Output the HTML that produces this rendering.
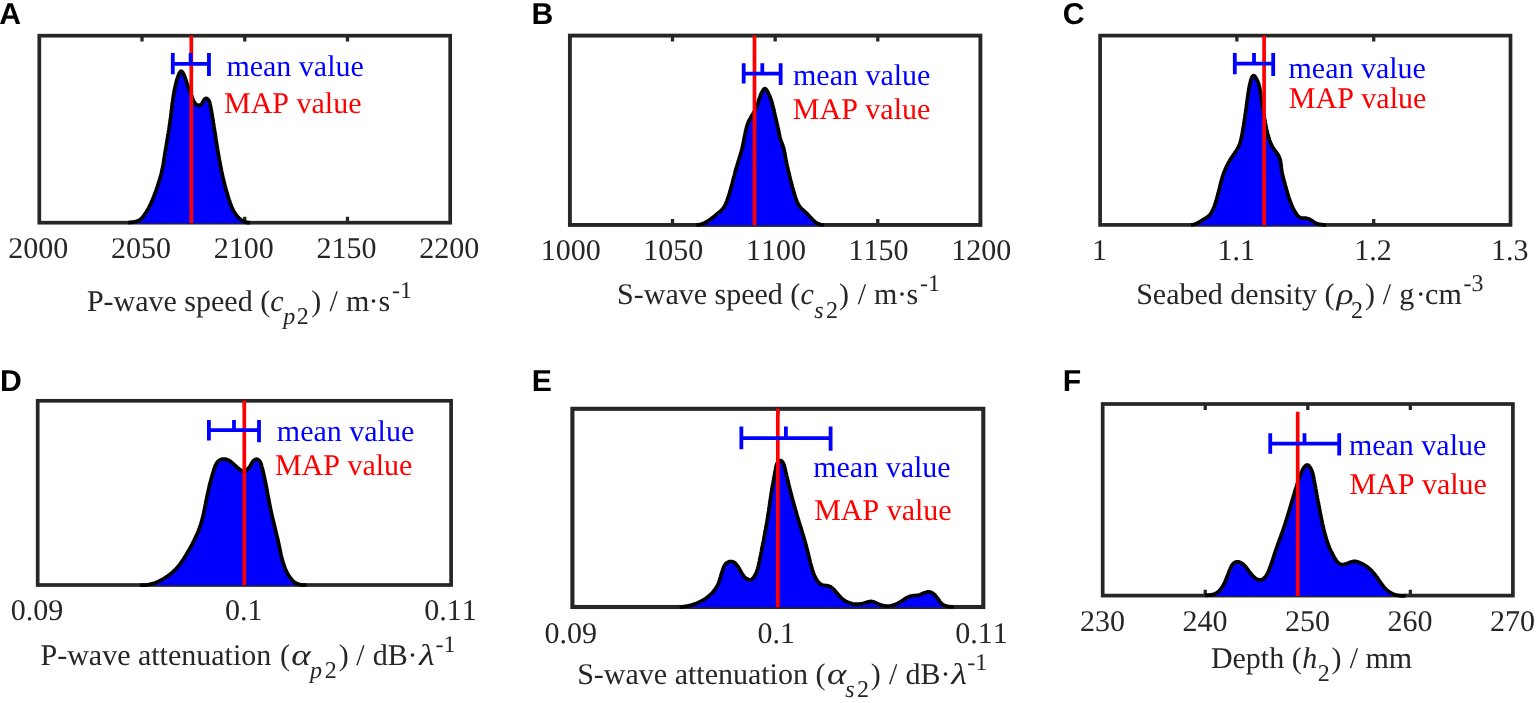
<!DOCTYPE html>
<html lang="en"><head><meta charset="utf-8"><title>Posterior probability densities</title>
<style>html,body{margin:0;padding:0;background:#fff;}body{width:1540px;height:703px;overflow:hidden;}svg{display:block;filter:blur(0.3px);}text{font-kerning:none;text-rendering:geometricPrecision;white-space:pre;}.t{font-family:"Liberation Serif",serif;font-size:30px;fill:#262626;}.s{font-family:"Liberation Serif",serif;font-size:24px;fill:#262626;}.i{font-style:italic;}.L{font-family:"Liberation Sans",sans-serif;font-weight:bold;font-size:30.2px;fill:#000;}.b{fill:#0000ff;}.r{fill:#ff0000;}</style></head><body>
<svg width="1540" height="703" viewBox="0 0 1540 703">
<rect width="1540" height="703" fill="#fff"/>
<g>
<text class="L" x="-0.85" y="24.00">A</text>
<rect x="39.30" y="35.70" width="410.90" height="187.00" fill="none" stroke="#262626" stroke-width="3.70"/>
<path d="M142.02,222.70v-5.90 M142.02,35.70v5.90 M244.75,222.70v-5.90 M244.75,35.70v5.90 M347.47,222.70v-5.90 M347.47,35.70v5.90" stroke="#262626" stroke-width="3.30" fill="none"/>
<path d="M128.0,222.7L128.8,222.6L129.6,222.5L130.4,222.4L131.3,222.3L132.1,222.2L133.0,222.1L133.9,222.0L134.7,221.8L135.6,221.6L136.5,221.4L137.3,221.1L138.1,220.8L138.9,220.5L139.6,220.1L140.3,219.6L141.0,219.0L141.6,218.5L142.2,217.9L142.7,217.2L143.2,216.5L143.8,215.8L144.3,215.1L144.7,214.4L145.2,213.7L145.7,213.0L146.2,212.3L146.6,211.6L147.0,210.8L147.5,210.1L147.9,209.3L148.3,208.6L148.7,207.9L149.1,207.1L149.5,206.3L149.9,205.6L150.2,204.8L150.6,204.0L151.0,203.3L151.3,202.5L151.7,201.7L152.0,200.9L152.3,200.2L152.7,199.4L153.0,198.6L153.3,197.8L153.6,197.0L153.9,196.2L154.2,195.4L154.5,194.6L154.8,193.8L155.1,193.0L155.4,192.2L155.7,191.4L156.0,190.6L156.3,189.8L156.5,189.0L156.8,188.2L157.1,187.4L157.4,186.5L157.6,185.7L157.9,184.9L158.2,184.1L158.4,183.3L158.7,182.5L159.0,181.7L159.2,180.9L159.5,180.0L159.7,179.2L159.9,178.4L160.2,177.6L160.4,176.8L160.6,176.0L160.8,175.1L161.1,174.3L161.3,173.5L161.5,172.7L161.7,171.8L161.9,171.0L162.0,170.2L162.2,169.3L162.4,168.5L162.6,167.7L162.7,166.8L162.9,166.0L163.0,165.2L163.2,164.3L163.3,163.5L163.5,162.6L163.6,161.8L163.8,161.0L163.9,160.1L164.0,159.3L164.2,158.4L164.3,157.6L164.4,156.8L164.6,155.9L164.7,155.1L164.8,154.2L165.0,153.4L165.1,152.5L165.2,151.7L165.4,150.9L165.5,150.0L165.7,149.2L165.8,148.3L165.9,147.5L166.1,146.6L166.2,145.8L166.4,145.0L166.5,144.1L166.6,143.3L166.8,142.4L166.9,141.6L167.1,140.8L167.2,139.9L167.4,139.1L167.5,138.2L167.6,137.4L167.8,136.6L167.9,135.7L168.0,134.9L168.2,134.0L168.3,133.2L168.5,132.3L168.6,131.5L168.7,130.7L168.9,129.8L169.0,129.0L169.1,128.1L169.2,127.3L169.4,126.4L169.5,125.6L169.6,124.8L169.7,123.9L169.9,123.1L170.0,122.2L170.1,121.4L170.2,120.5L170.3,119.7L170.4,118.9L170.6,118.0L170.7,117.2L170.8,116.3L170.9,115.5L171.0,114.6L171.1,113.8L171.2,112.9L171.3,112.1L171.4,111.2L171.5,110.4L171.6,109.5L171.7,108.7L171.8,107.9L171.9,107.0L172.0,106.2L172.1,105.3L172.2,104.5L172.3,103.6L172.4,102.8L172.6,101.9L172.7,101.1L172.8,100.3L172.9,99.4L173.0,98.6L173.1,97.7L173.3,96.9L173.4,96.0L173.5,95.2L173.7,94.4L173.8,93.5L174.0,92.7L174.1,91.8L174.3,91.0L174.4,90.2L174.6,89.3L174.8,88.5L175.0,87.7L175.1,86.8L175.3,86.0L175.5,85.2L175.7,84.3L175.9,83.5L176.1,82.7L176.4,81.9L176.6,81.0L176.8,80.2L177.1,79.4L177.3,78.6L177.6,77.7L177.9,76.9L178.1,76.1L178.4,75.3L178.7,74.5L179.1,73.7L179.5,72.9L180.0,72.1L180.5,71.5L181.1,71.2L181.7,71.3L182.3,71.8L182.8,72.5L183.2,73.3L183.6,74.1L184.0,74.9L184.3,75.7L184.7,76.5L185.0,77.4L185.2,78.2L185.5,79.0L185.8,79.8L186.1,80.7L186.3,81.5L186.6,82.3L186.9,83.1L187.1,83.9L187.4,84.7L187.7,85.5L187.9,86.2L188.2,87.0L188.5,87.8L188.8,88.6L189.1,89.3L189.4,90.1L189.7,90.9L190.0,91.7L190.3,92.5L190.6,93.3L190.9,94.1L191.3,94.9L191.6,95.7L191.9,96.5L192.2,97.4L192.5,98.2L192.9,99.1L193.2,99.9L193.6,100.8L194.0,101.6L194.4,102.3L194.9,103.0L195.4,103.6L195.9,104.2L196.5,104.6L197.2,105.0L197.9,105.2L198.7,105.3L199.6,105.2L200.4,104.9L201.1,104.4L201.8,103.7L202.4,102.9L202.9,102.0L203.4,101.1L203.9,100.3L204.4,99.5L204.9,98.9L205.5,98.5L206.1,98.4L206.8,98.6L207.5,99.1L208.2,99.7L208.7,100.4L209.2,101.2L209.5,102.0L209.8,102.8L210.0,103.7L210.2,104.5L210.3,105.4L210.5,106.2L210.6,107.0L210.8,107.9L211.0,108.7L211.1,109.5L211.3,110.4L211.4,111.2L211.6,112.0L211.7,112.9L211.9,113.7L212.0,114.5L212.2,115.4L212.3,116.2L212.4,117.1L212.6,117.9L212.7,118.7L212.9,119.6L213.0,120.4L213.1,121.3L213.3,122.1L213.4,122.9L213.5,123.8L213.7,124.6L213.8,125.5L213.9,126.3L214.1,127.2L214.2,128.0L214.3,128.9L214.5,129.7L214.6,130.6L214.7,131.4L214.9,132.2L215.0,133.1L215.1,133.9L215.3,134.8L215.4,135.6L215.5,136.5L215.7,137.3L215.8,138.2L215.9,139.0L216.0,139.8L216.2,140.7L216.3,141.5L216.4,142.4L216.6,143.2L216.7,144.1L216.9,144.9L217.0,145.7L217.1,146.6L217.3,147.4L217.4,148.3L217.5,149.1L217.7,150.0L217.8,150.8L218.0,151.6L218.1,152.5L218.2,153.3L218.4,154.1L218.5,155.0L218.7,155.8L218.8,156.7L219.0,157.5L219.1,158.3L219.3,159.2L219.4,160.0L219.6,160.8L219.7,161.7L219.9,162.5L220.1,163.3L220.2,164.2L220.4,165.0L220.5,165.9L220.7,166.7L220.9,167.5L221.0,168.4L221.2,169.2L221.4,170.0L221.5,170.8L221.7,171.7L221.9,172.5L222.1,173.3L222.3,174.2L222.4,175.0L222.6,175.8L222.8,176.7L223.0,177.5L223.2,178.3L223.4,179.2L223.6,180.0L223.8,180.8L224.0,181.6L224.2,182.5L224.4,183.3L224.6,184.1L224.8,184.9L225.0,185.8L225.3,186.6L225.5,187.4L225.7,188.3L225.9,189.1L226.2,189.9L226.4,190.7L226.6,191.6L226.9,192.4L227.1,193.2L227.3,194.0L227.6,194.8L227.8,195.7L228.1,196.5L228.3,197.3L228.6,198.1L228.9,199.0L229.1,199.8L229.4,200.6L229.7,201.4L229.9,202.2L230.2,203.1L230.5,203.9L230.8,204.7L231.1,205.5L231.4,206.3L231.8,207.1L232.1,207.8L232.5,208.6L232.8,209.4L233.2,210.1L233.6,210.9L234.0,211.6L234.4,212.3L234.9,213.1L235.3,213.7L235.8,214.4L236.3,215.1L236.8,215.7L237.4,216.4L237.9,217.0L238.5,217.6L239.1,218.2L239.8,218.7L240.4,219.3L241.1,219.8L241.9,220.3L242.6,220.7L243.4,221.2L244.2,221.6L245.0,221.9L245.8,222.2L246.6,222.4L247.4,222.6L248.3,222.7L249.1,222.7L250.0,222.7 L250.00,223.20 L128.00,223.20 Z" fill="#0000ff" stroke="none"/>
<path d="M128.0,222.7L128.8,222.6L129.6,222.5L130.4,222.4L131.3,222.3L132.1,222.2L133.0,222.1L133.9,222.0L134.7,221.8L135.6,221.6L136.5,221.4L137.3,221.1L138.1,220.8L138.9,220.5L139.6,220.1L140.3,219.6L141.0,219.0L141.6,218.5L142.2,217.9L142.7,217.2L143.2,216.5L143.8,215.8L144.3,215.1L144.7,214.4L145.2,213.7L145.7,213.0L146.2,212.3L146.6,211.6L147.0,210.8L147.5,210.1L147.9,209.3L148.3,208.6L148.7,207.9L149.1,207.1L149.5,206.3L149.9,205.6L150.2,204.8L150.6,204.0L151.0,203.3L151.3,202.5L151.7,201.7L152.0,200.9L152.3,200.2L152.7,199.4L153.0,198.6L153.3,197.8L153.6,197.0L153.9,196.2L154.2,195.4L154.5,194.6L154.8,193.8L155.1,193.0L155.4,192.2L155.7,191.4L156.0,190.6L156.3,189.8L156.5,189.0L156.8,188.2L157.1,187.4L157.4,186.5L157.6,185.7L157.9,184.9L158.2,184.1L158.4,183.3L158.7,182.5L159.0,181.7L159.2,180.9L159.5,180.0L159.7,179.2L159.9,178.4L160.2,177.6L160.4,176.8L160.6,176.0L160.8,175.1L161.1,174.3L161.3,173.5L161.5,172.7L161.7,171.8L161.9,171.0L162.0,170.2L162.2,169.3L162.4,168.5L162.6,167.7L162.7,166.8L162.9,166.0L163.0,165.2L163.2,164.3L163.3,163.5L163.5,162.6L163.6,161.8L163.8,161.0L163.9,160.1L164.0,159.3L164.2,158.4L164.3,157.6L164.4,156.8L164.6,155.9L164.7,155.1L164.8,154.2L165.0,153.4L165.1,152.5L165.2,151.7L165.4,150.9L165.5,150.0L165.7,149.2L165.8,148.3L165.9,147.5L166.1,146.6L166.2,145.8L166.4,145.0L166.5,144.1L166.6,143.3L166.8,142.4L166.9,141.6L167.1,140.8L167.2,139.9L167.4,139.1L167.5,138.2L167.6,137.4L167.8,136.6L167.9,135.7L168.0,134.9L168.2,134.0L168.3,133.2L168.5,132.3L168.6,131.5L168.7,130.7L168.9,129.8L169.0,129.0L169.1,128.1L169.2,127.3L169.4,126.4L169.5,125.6L169.6,124.8L169.7,123.9L169.9,123.1L170.0,122.2L170.1,121.4L170.2,120.5L170.3,119.7L170.4,118.9L170.6,118.0L170.7,117.2L170.8,116.3L170.9,115.5L171.0,114.6L171.1,113.8L171.2,112.9L171.3,112.1L171.4,111.2L171.5,110.4L171.6,109.5L171.7,108.7L171.8,107.9L171.9,107.0L172.0,106.2L172.1,105.3L172.2,104.5L172.3,103.6L172.4,102.8L172.6,101.9L172.7,101.1L172.8,100.3L172.9,99.4L173.0,98.6L173.1,97.7L173.3,96.9L173.4,96.0L173.5,95.2L173.7,94.4L173.8,93.5L174.0,92.7L174.1,91.8L174.3,91.0L174.4,90.2L174.6,89.3L174.8,88.5L175.0,87.7L175.1,86.8L175.3,86.0L175.5,85.2L175.7,84.3L175.9,83.5L176.1,82.7L176.4,81.9L176.6,81.0L176.8,80.2L177.1,79.4L177.3,78.6L177.6,77.7L177.9,76.9L178.1,76.1L178.4,75.3L178.7,74.5L179.1,73.7L179.5,72.9L180.0,72.1L180.5,71.5L181.1,71.2L181.7,71.3L182.3,71.8L182.8,72.5L183.2,73.3L183.6,74.1L184.0,74.9L184.3,75.7L184.7,76.5L185.0,77.4L185.2,78.2L185.5,79.0L185.8,79.8L186.1,80.7L186.3,81.5L186.6,82.3L186.9,83.1L187.1,83.9L187.4,84.7L187.7,85.5L187.9,86.2L188.2,87.0L188.5,87.8L188.8,88.6L189.1,89.3L189.4,90.1L189.7,90.9L190.0,91.7L190.3,92.5L190.6,93.3L190.9,94.1L191.3,94.9L191.6,95.7L191.9,96.5L192.2,97.4L192.5,98.2L192.9,99.1L193.2,99.9L193.6,100.8L194.0,101.6L194.4,102.3L194.9,103.0L195.4,103.6L195.9,104.2L196.5,104.6L197.2,105.0L197.9,105.2L198.7,105.3L199.6,105.2L200.4,104.9L201.1,104.4L201.8,103.7L202.4,102.9L202.9,102.0L203.4,101.1L203.9,100.3L204.4,99.5L204.9,98.9L205.5,98.5L206.1,98.4L206.8,98.6L207.5,99.1L208.2,99.7L208.7,100.4L209.2,101.2L209.5,102.0L209.8,102.8L210.0,103.7L210.2,104.5L210.3,105.4L210.5,106.2L210.6,107.0L210.8,107.9L211.0,108.7L211.1,109.5L211.3,110.4L211.4,111.2L211.6,112.0L211.7,112.9L211.9,113.7L212.0,114.5L212.2,115.4L212.3,116.2L212.4,117.1L212.6,117.9L212.7,118.7L212.9,119.6L213.0,120.4L213.1,121.3L213.3,122.1L213.4,122.9L213.5,123.8L213.7,124.6L213.8,125.5L213.9,126.3L214.1,127.2L214.2,128.0L214.3,128.9L214.5,129.7L214.6,130.6L214.7,131.4L214.9,132.2L215.0,133.1L215.1,133.9L215.3,134.8L215.4,135.6L215.5,136.5L215.7,137.3L215.8,138.2L215.9,139.0L216.0,139.8L216.2,140.7L216.3,141.5L216.4,142.4L216.6,143.2L216.7,144.1L216.9,144.9L217.0,145.7L217.1,146.6L217.3,147.4L217.4,148.3L217.5,149.1L217.7,150.0L217.8,150.8L218.0,151.6L218.1,152.5L218.2,153.3L218.4,154.1L218.5,155.0L218.7,155.8L218.8,156.7L219.0,157.5L219.1,158.3L219.3,159.2L219.4,160.0L219.6,160.8L219.7,161.7L219.9,162.5L220.1,163.3L220.2,164.2L220.4,165.0L220.5,165.9L220.7,166.7L220.9,167.5L221.0,168.4L221.2,169.2L221.4,170.0L221.5,170.8L221.7,171.7L221.9,172.5L222.1,173.3L222.3,174.2L222.4,175.0L222.6,175.8L222.8,176.7L223.0,177.5L223.2,178.3L223.4,179.2L223.6,180.0L223.8,180.8L224.0,181.6L224.2,182.5L224.4,183.3L224.6,184.1L224.8,184.9L225.0,185.8L225.3,186.6L225.5,187.4L225.7,188.3L225.9,189.1L226.2,189.9L226.4,190.7L226.6,191.6L226.9,192.4L227.1,193.2L227.3,194.0L227.6,194.8L227.8,195.7L228.1,196.5L228.3,197.3L228.6,198.1L228.9,199.0L229.1,199.8L229.4,200.6L229.7,201.4L229.9,202.2L230.2,203.1L230.5,203.9L230.8,204.7L231.1,205.5L231.4,206.3L231.8,207.1L232.1,207.8L232.5,208.6L232.8,209.4L233.2,210.1L233.6,210.9L234.0,211.6L234.4,212.3L234.9,213.1L235.3,213.7L235.8,214.4L236.3,215.1L236.8,215.7L237.4,216.4L237.9,217.0L238.5,217.6L239.1,218.2L239.8,218.7L240.4,219.3L241.1,219.8L241.9,220.3L242.6,220.7L243.4,221.2L244.2,221.6L245.0,221.9L245.8,222.2L246.6,222.4L247.4,222.6L248.3,222.7L249.1,222.7L250.0,222.7" fill="none" stroke="#000" stroke-width="3.70" stroke-linejoin="round" stroke-linecap="butt"/>
<path d="M191.30,35.70V223.20" stroke="#ff0000" stroke-width="3.70" fill="none"/>
<path d="M172.80,63.85H208.95 M172.80,53.00V74.30 M208.95,53.00V76.10" stroke="#0000ff" stroke-width="3.80" fill="none"/>
<path d="M190.60,53.00V63.85" stroke="#0000ff" stroke-width="3.80" fill="none"/>
<text class="t b" x="226.40" y="76.40">mean value</text>
<text class="t r" x="224.00" y="113.20">MAP value</text>
<text class="t" text-anchor="middle" x="38.30" y="258.20">2000</text>
<text class="t" text-anchor="middle" x="141.02" y="258.20">2050</text>
<text class="t" text-anchor="middle" x="243.75" y="258.20">2100</text>
<text class="t" text-anchor="middle" x="346.47" y="258.20">2150</text>
<text class="t" text-anchor="middle" x="449.20" y="258.20">2200</text>
<text class="t"><tspan class="t" x="86.90" y="311.00">P-wave speed (</tspan><tspan class="t i" x="270.17" y="311.00">c</tspan><tspan class="s i" x="283.28" y="324.40">p</tspan><tspan class="s" x="296.78" y="324.40">2</tspan><tspan class="t" x="311.28" y="311.00">) </tspan><tspan class="t" x="329.58" y="311.00">/ </tspan><tspan class="t" x="346.11" y="311.00">m</tspan><tspan class="t" x="368.54" y="311.00">·</tspan><tspan class="t" x="378.53" y="311.00">s</tspan><tspan class="s" x="392.11" y="297.60">-1</tspan></text>
</g>
<g>
<text class="L" x="531.60" y="24.20">B</text>
<rect x="569.90" y="35.60" width="410.50" height="189.35" fill="none" stroke="#262626" stroke-width="3.90"/>
<path d="M672.52,224.95v-5.90 M672.52,35.60v5.90 M775.15,224.95v-5.90 M775.15,35.60v5.90 M877.77,224.95v-5.90 M877.77,35.60v5.90" stroke="#262626" stroke-width="3.30" fill="none"/>
<path d="M696.5,224.9L697.3,224.9L698.1,224.8L698.9,224.7L699.6,224.5L700.4,224.4L701.1,224.2L701.8,224.0L702.5,223.7L703.2,223.5L703.9,223.2L704.6,222.9L705.2,222.5L705.9,222.2L706.5,221.8L707.2,221.5L707.8,221.1L708.4,220.7L709.0,220.3L709.7,219.8L710.3,219.4L710.9,219.0L711.5,218.5L712.1,218.0L712.7,217.6L713.2,217.1L713.8,216.6L714.4,216.1L715.0,215.7L715.6,215.2L716.2,214.7L716.8,214.2L717.4,213.7L718.0,213.2L718.6,212.7L719.1,212.3L719.7,211.8L720.3,211.3L720.8,210.8L721.4,210.3L721.9,209.7L722.4,209.2L722.9,208.6L723.4,208.0L723.8,207.4L724.2,206.8L724.6,206.2L724.9,205.5L725.2,204.8L725.6,204.2L725.9,203.5L726.1,202.8L726.4,202.1L726.7,201.4L727.0,200.6L727.2,199.9L727.5,199.2L727.7,198.5L728.0,197.8L728.2,197.1L728.5,196.4L728.7,195.7L728.9,194.9L729.2,194.2L729.4,193.5L729.6,192.8L729.8,192.1L730.0,191.3L730.2,190.6L730.4,189.9L730.6,189.2L730.8,188.4L731.0,187.7L731.2,187.0L731.4,186.3L731.6,185.5L731.8,184.8L732.0,184.1L732.2,183.4L732.4,182.6L732.6,181.9L732.8,181.2L732.9,180.5L733.1,179.7L733.3,179.0L733.5,178.3L733.7,177.5L733.9,176.8L734.1,176.1L734.3,175.4L734.5,174.6L734.6,173.9L734.8,173.2L735.0,172.5L735.2,171.7L735.4,171.0L735.6,170.3L735.8,169.6L736.0,168.8L736.3,168.1L736.5,167.4L736.7,166.7L736.9,166.0L737.1,165.2L737.3,164.5L737.6,163.8L737.8,163.1L738.0,162.4L738.2,161.7L738.5,160.9L738.7,160.2L738.9,159.5L739.1,158.8L739.3,158.1L739.6,157.4L739.8,156.6L740.0,155.9L740.2,155.2L740.4,154.5L740.6,153.8L740.8,153.0L741.1,152.3L741.3,151.6L741.5,150.9L741.6,150.1L741.8,149.4L742.0,148.7L742.2,147.9L742.4,147.2L742.6,146.5L742.7,145.7L742.9,145.0L743.0,144.3L743.2,143.5L743.3,142.8L743.5,142.0L743.6,141.3L743.8,140.6L743.9,139.8L744.0,139.1L744.2,138.3L744.3,137.6L744.4,136.8L744.6,136.1L744.7,135.4L744.9,134.6L745.0,133.9L745.2,133.1L745.3,132.4L745.5,131.7L745.6,130.9L745.8,130.2L746.0,129.5L746.2,128.7L746.4,128.0L746.6,127.3L746.8,126.6L747.0,125.9L747.2,125.2L747.5,124.5L747.7,123.8L748.0,123.1L748.3,122.4L748.6,121.7L748.9,121.0L749.2,120.3L749.5,119.7L749.9,119.0L750.3,118.3L750.7,117.7L751.0,117.0L751.4,116.4L751.8,115.7L752.2,115.1L752.6,114.4L753.0,113.8L753.4,113.1L753.7,112.5L754.1,111.8L754.5,111.2L754.8,110.5L755.1,109.8L755.5,109.2L755.8,108.5L756.1,107.8L756.4,107.1L756.7,106.5L757.0,105.8L757.3,105.1L757.5,104.4L757.8,103.7L758.0,102.9L758.2,102.2L758.4,101.5L758.7,100.8L758.9,100.1L759.1,99.3L759.3,98.6L759.6,97.9L759.8,97.2L760.0,96.4L760.3,95.7L760.6,95.0L760.9,94.3L761.2,93.6L761.5,92.9L761.9,92.2L762.3,91.5L762.7,90.8L763.1,90.1L763.6,89.5L764.0,89.0L764.5,88.7L765.0,88.6L765.5,88.8L765.9,89.2L766.3,89.7L766.8,90.4L767.2,91.0L767.6,91.7L767.9,92.4L768.3,93.1L768.6,93.8L769.0,94.5L769.3,95.2L769.6,95.9L769.9,96.6L770.2,97.3L770.4,98.0L770.7,98.7L770.9,99.4L771.2,100.1L771.4,100.8L771.6,101.6L771.9,102.3L772.1,103.0L772.3,103.7L772.5,104.5L772.7,105.2L772.8,105.9L773.0,106.6L773.2,107.4L773.4,108.1L773.5,108.8L773.7,109.6L773.9,110.3L774.0,111.0L774.2,111.8L774.4,112.5L774.5,113.2L774.7,114.0L774.9,114.7L775.0,115.4L775.2,116.2L775.4,116.9L775.6,117.6L775.7,118.4L775.9,119.1L776.1,119.8L776.3,120.5L776.5,121.3L776.6,122.0L776.8,122.7L777.0,123.5L777.2,124.2L777.3,124.9L777.5,125.7L777.7,126.4L777.8,127.1L778.0,127.9L778.1,128.6L778.3,129.3L778.5,130.1L778.6,130.8L778.8,131.5L778.9,132.3L779.0,133.0L779.2,133.8L779.3,134.5L779.5,135.2L779.7,136.0L779.8,136.7L780.0,137.4L780.2,138.2L780.4,138.9L780.6,139.6L780.8,140.3L781.1,141.0L781.3,141.7L781.6,142.4L781.9,143.1L782.1,143.8L782.4,144.5L782.6,145.2L782.9,146.0L783.1,146.7L783.4,147.4L783.6,148.1L783.8,148.8L783.9,149.6L784.1,150.3L784.3,151.0L784.4,151.8L784.6,152.5L784.7,153.2L784.9,154.0L785.0,154.7L785.1,155.5L785.3,156.2L785.4,157.0L785.5,157.7L785.7,158.5L785.8,159.2L786.0,159.9L786.1,160.7L786.3,161.4L786.4,162.2L786.6,162.9L786.7,163.6L786.9,164.4L787.0,165.1L787.2,165.8L787.3,166.6L787.5,167.3L787.7,168.0L787.8,168.8L788.0,169.5L788.2,170.2L788.3,170.9L788.5,171.7L788.7,172.4L788.9,173.1L789.0,173.8L789.2,174.6L789.4,175.3L789.6,176.0L789.7,176.7L789.9,177.5L790.1,178.2L790.3,178.9L790.5,179.6L790.7,180.4L790.9,181.1L791.1,181.8L791.3,182.5L791.5,183.3L791.7,184.0L791.8,184.7L792.0,185.5L792.2,186.2L792.4,186.9L792.6,187.6L792.9,188.4L793.1,189.1L793.3,189.8L793.5,190.5L793.7,191.3L793.9,192.0L794.1,192.7L794.3,193.5L794.5,194.2L794.7,194.9L794.9,195.7L795.2,196.4L795.4,197.1L795.6,197.8L795.9,198.6L796.1,199.3L796.4,200.0L796.6,200.7L796.9,201.4L797.2,202.1L797.5,202.7L797.9,203.4L798.2,204.1L798.6,204.7L799.0,205.3L799.4,206.0L799.8,206.6L800.2,207.1L800.7,207.7L801.2,208.3L801.7,208.8L802.3,209.3L802.8,209.9L803.4,210.4L804.0,210.9L804.5,211.4L805.1,211.9L805.7,212.4L806.2,212.9L806.8,213.4L807.3,213.9L807.8,214.5L808.3,215.0L808.9,215.6L809.4,216.1L809.9,216.7L810.4,217.2L810.9,217.8L811.4,218.3L811.9,218.9L812.4,219.5L812.9,220.0L813.5,220.5L814.0,221.0L814.6,221.5L815.2,222.0L815.8,222.4L816.4,222.8L817.1,223.2L817.8,223.5L818.5,223.8L819.2,224.1L819.9,224.3L820.6,224.5L821.4,224.7L822.1,224.8L822.8,224.9L823.6,224.9 L823.60,225.25 L696.50,225.25 Z" fill="#0000ff" stroke="none"/>
<path d="M696.5,224.9L697.3,224.9L698.1,224.8L698.9,224.7L699.6,224.5L700.4,224.4L701.1,224.2L701.8,224.0L702.5,223.7L703.2,223.5L703.9,223.2L704.6,222.9L705.2,222.5L705.9,222.2L706.5,221.8L707.2,221.5L707.8,221.1L708.4,220.7L709.0,220.3L709.7,219.8L710.3,219.4L710.9,219.0L711.5,218.5L712.1,218.0L712.7,217.6L713.2,217.1L713.8,216.6L714.4,216.1L715.0,215.7L715.6,215.2L716.2,214.7L716.8,214.2L717.4,213.7L718.0,213.2L718.6,212.7L719.1,212.3L719.7,211.8L720.3,211.3L720.8,210.8L721.4,210.3L721.9,209.7L722.4,209.2L722.9,208.6L723.4,208.0L723.8,207.4L724.2,206.8L724.6,206.2L724.9,205.5L725.2,204.8L725.6,204.2L725.9,203.5L726.1,202.8L726.4,202.1L726.7,201.4L727.0,200.6L727.2,199.9L727.5,199.2L727.7,198.5L728.0,197.8L728.2,197.1L728.5,196.4L728.7,195.7L728.9,194.9L729.2,194.2L729.4,193.5L729.6,192.8L729.8,192.1L730.0,191.3L730.2,190.6L730.4,189.9L730.6,189.2L730.8,188.4L731.0,187.7L731.2,187.0L731.4,186.3L731.6,185.5L731.8,184.8L732.0,184.1L732.2,183.4L732.4,182.6L732.6,181.9L732.8,181.2L732.9,180.5L733.1,179.7L733.3,179.0L733.5,178.3L733.7,177.5L733.9,176.8L734.1,176.1L734.3,175.4L734.5,174.6L734.6,173.9L734.8,173.2L735.0,172.5L735.2,171.7L735.4,171.0L735.6,170.3L735.8,169.6L736.0,168.8L736.3,168.1L736.5,167.4L736.7,166.7L736.9,166.0L737.1,165.2L737.3,164.5L737.6,163.8L737.8,163.1L738.0,162.4L738.2,161.7L738.5,160.9L738.7,160.2L738.9,159.5L739.1,158.8L739.3,158.1L739.6,157.4L739.8,156.6L740.0,155.9L740.2,155.2L740.4,154.5L740.6,153.8L740.8,153.0L741.1,152.3L741.3,151.6L741.5,150.9L741.6,150.1L741.8,149.4L742.0,148.7L742.2,147.9L742.4,147.2L742.6,146.5L742.7,145.7L742.9,145.0L743.0,144.3L743.2,143.5L743.3,142.8L743.5,142.0L743.6,141.3L743.8,140.6L743.9,139.8L744.0,139.1L744.2,138.3L744.3,137.6L744.4,136.8L744.6,136.1L744.7,135.4L744.9,134.6L745.0,133.9L745.2,133.1L745.3,132.4L745.5,131.7L745.6,130.9L745.8,130.2L746.0,129.5L746.2,128.7L746.4,128.0L746.6,127.3L746.8,126.6L747.0,125.9L747.2,125.2L747.5,124.5L747.7,123.8L748.0,123.1L748.3,122.4L748.6,121.7L748.9,121.0L749.2,120.3L749.5,119.7L749.9,119.0L750.3,118.3L750.7,117.7L751.0,117.0L751.4,116.4L751.8,115.7L752.2,115.1L752.6,114.4L753.0,113.8L753.4,113.1L753.7,112.5L754.1,111.8L754.5,111.2L754.8,110.5L755.1,109.8L755.5,109.2L755.8,108.5L756.1,107.8L756.4,107.1L756.7,106.5L757.0,105.8L757.3,105.1L757.5,104.4L757.8,103.7L758.0,102.9L758.2,102.2L758.4,101.5L758.7,100.8L758.9,100.1L759.1,99.3L759.3,98.6L759.6,97.9L759.8,97.2L760.0,96.4L760.3,95.7L760.6,95.0L760.9,94.3L761.2,93.6L761.5,92.9L761.9,92.2L762.3,91.5L762.7,90.8L763.1,90.1L763.6,89.5L764.0,89.0L764.5,88.7L765.0,88.6L765.5,88.8L765.9,89.2L766.3,89.7L766.8,90.4L767.2,91.0L767.6,91.7L767.9,92.4L768.3,93.1L768.6,93.8L769.0,94.5L769.3,95.2L769.6,95.9L769.9,96.6L770.2,97.3L770.4,98.0L770.7,98.7L770.9,99.4L771.2,100.1L771.4,100.8L771.6,101.6L771.9,102.3L772.1,103.0L772.3,103.7L772.5,104.5L772.7,105.2L772.8,105.9L773.0,106.6L773.2,107.4L773.4,108.1L773.5,108.8L773.7,109.6L773.9,110.3L774.0,111.0L774.2,111.8L774.4,112.5L774.5,113.2L774.7,114.0L774.9,114.7L775.0,115.4L775.2,116.2L775.4,116.9L775.6,117.6L775.7,118.4L775.9,119.1L776.1,119.8L776.3,120.5L776.5,121.3L776.6,122.0L776.8,122.7L777.0,123.5L777.2,124.2L777.3,124.9L777.5,125.7L777.7,126.4L777.8,127.1L778.0,127.9L778.1,128.6L778.3,129.3L778.5,130.1L778.6,130.8L778.8,131.5L778.9,132.3L779.0,133.0L779.2,133.8L779.3,134.5L779.5,135.2L779.7,136.0L779.8,136.7L780.0,137.4L780.2,138.2L780.4,138.9L780.6,139.6L780.8,140.3L781.1,141.0L781.3,141.7L781.6,142.4L781.9,143.1L782.1,143.8L782.4,144.5L782.6,145.2L782.9,146.0L783.1,146.7L783.4,147.4L783.6,148.1L783.8,148.8L783.9,149.6L784.1,150.3L784.3,151.0L784.4,151.8L784.6,152.5L784.7,153.2L784.9,154.0L785.0,154.7L785.1,155.5L785.3,156.2L785.4,157.0L785.5,157.7L785.7,158.5L785.8,159.2L786.0,159.9L786.1,160.7L786.3,161.4L786.4,162.2L786.6,162.9L786.7,163.6L786.9,164.4L787.0,165.1L787.2,165.8L787.3,166.6L787.5,167.3L787.7,168.0L787.8,168.8L788.0,169.5L788.2,170.2L788.3,170.9L788.5,171.7L788.7,172.4L788.9,173.1L789.0,173.8L789.2,174.6L789.4,175.3L789.6,176.0L789.7,176.7L789.9,177.5L790.1,178.2L790.3,178.9L790.5,179.6L790.7,180.4L790.9,181.1L791.1,181.8L791.3,182.5L791.5,183.3L791.7,184.0L791.8,184.7L792.0,185.5L792.2,186.2L792.4,186.9L792.6,187.6L792.9,188.4L793.1,189.1L793.3,189.8L793.5,190.5L793.7,191.3L793.9,192.0L794.1,192.7L794.3,193.5L794.5,194.2L794.7,194.9L794.9,195.7L795.2,196.4L795.4,197.1L795.6,197.8L795.9,198.6L796.1,199.3L796.4,200.0L796.6,200.7L796.9,201.4L797.2,202.1L797.5,202.7L797.9,203.4L798.2,204.1L798.6,204.7L799.0,205.3L799.4,206.0L799.8,206.6L800.2,207.1L800.7,207.7L801.2,208.3L801.7,208.8L802.3,209.3L802.8,209.9L803.4,210.4L804.0,210.9L804.5,211.4L805.1,211.9L805.7,212.4L806.2,212.9L806.8,213.4L807.3,213.9L807.8,214.5L808.3,215.0L808.9,215.6L809.4,216.1L809.9,216.7L810.4,217.2L810.9,217.8L811.4,218.3L811.9,218.9L812.4,219.5L812.9,220.0L813.5,220.5L814.0,221.0L814.6,221.5L815.2,222.0L815.8,222.4L816.4,222.8L817.1,223.2L817.8,223.5L818.5,223.8L819.2,224.1L819.9,224.3L820.6,224.5L821.4,224.7L822.1,224.8L822.8,224.9L823.6,224.9" fill="none" stroke="#000" stroke-width="3.70" stroke-linejoin="round" stroke-linecap="butt"/>
<path d="M754.50,35.60V225.25" stroke="#ff0000" stroke-width="3.70" fill="none"/>
<path d="M743.70,73.55H780.65 M743.70,63.20V83.50 M780.65,63.20V85.00" stroke="#0000ff" stroke-width="3.80" fill="none"/>
<path d="M762.30,63.20V73.55" stroke="#0000ff" stroke-width="3.80" fill="none"/>
<text class="t b" x="793.00" y="85.30">mean value</text>
<text class="t r" x="792.80" y="119.20">MAP value</text>
<text class="t" text-anchor="middle" x="570.70" y="260.00">1000</text>
<text class="t" text-anchor="middle" x="673.32" y="260.00">1050</text>
<text class="t" text-anchor="middle" x="775.95" y="260.00">1100</text>
<text class="t" text-anchor="middle" x="878.57" y="260.00">1150</text>
<text class="t" text-anchor="middle" x="981.20" y="260.00">1200</text>
<text class="t"><tspan class="t" x="617.10" y="304.30">S-wave speed (</tspan><tspan class="t i" x="800.57" y="304.30">c</tspan><tspan class="s i" x="814.28" y="317.70">s</tspan><tspan class="s" x="825.93" y="317.70">2</tspan><tspan class="t" x="839.03" y="304.30">) </tspan><tspan class="t" x="857.82" y="304.30">/ </tspan><tspan class="t" x="873.95" y="304.30">m</tspan><tspan class="t" x="896.98" y="304.30">·</tspan><tspan class="t" x="906.38" y="304.30">s</tspan><tspan class="s" x="920.10" y="290.90">-1</tspan></text>
</g>
<g>
<text class="L" x="1062.70" y="24.30">C</text>
<rect x="1100.10" y="35.60" width="410.40" height="189.30" fill="none" stroke="#262626" stroke-width="3.70"/>
<path d="M1236.90,224.90v-5.90 M1236.90,35.60v5.90 M1373.70,224.90v-5.90 M1373.70,35.60v5.90" stroke="#262626" stroke-width="3.30" fill="none"/>
<path d="M1190.9,224.9L1191.8,224.8L1192.6,224.7L1193.5,224.5L1194.3,224.3L1195.0,224.1L1195.8,223.8L1196.6,223.5L1197.3,223.1L1198.0,222.7L1198.7,222.4L1199.5,221.9L1200.2,221.5L1200.9,221.1L1201.6,220.6L1202.3,220.2L1203.0,219.8L1203.7,219.3L1204.5,218.9L1205.2,218.4L1205.9,218.0L1206.6,217.5L1207.3,217.0L1208.0,216.5L1208.6,216.0L1209.2,215.5L1209.8,214.9L1210.3,214.2L1210.8,213.6L1211.2,212.9L1211.7,212.2L1212.0,211.4L1212.4,210.7L1212.8,209.9L1213.1,209.2L1213.4,208.4L1213.8,207.6L1214.1,206.9L1214.4,206.1L1214.7,205.3L1214.9,204.5L1215.2,203.7L1215.5,203.0L1215.7,202.2L1216.0,201.4L1216.2,200.6L1216.4,199.8L1216.7,199.0L1216.9,198.2L1217.1,197.4L1217.3,196.6L1217.5,195.8L1217.7,195.0L1218.0,194.1L1218.2,193.3L1218.4,192.5L1218.6,191.7L1218.8,190.9L1219.0,190.1L1219.2,189.3L1219.4,188.5L1219.6,187.7L1219.8,186.8L1220.0,186.0L1220.2,185.2L1220.4,184.4L1220.6,183.6L1220.8,182.8L1221.0,182.0L1221.2,181.2L1221.4,180.4L1221.7,179.6L1221.9,178.8L1222.1,178.0L1222.4,177.2L1222.6,176.4L1222.9,175.6L1223.1,174.8L1223.4,174.0L1223.7,173.3L1224.0,172.5L1224.3,171.7L1224.6,170.9L1224.9,170.2L1225.2,169.4L1225.5,168.6L1225.9,167.9L1226.2,167.1L1226.6,166.4L1226.9,165.6L1227.3,164.9L1227.7,164.2L1228.1,163.4L1228.5,162.7L1228.9,162.0L1229.3,161.3L1229.7,160.5L1230.2,159.8L1230.6,159.1L1231.1,158.4L1231.5,157.7L1232.0,157.0L1232.5,156.3L1232.9,155.6L1233.4,154.9L1233.9,154.2L1234.4,153.5L1234.8,152.9L1235.3,152.2L1235.8,151.5L1236.2,150.8L1236.7,150.1L1237.1,149.4L1237.5,148.6L1237.9,147.9L1238.3,147.2L1238.7,146.4L1239.0,145.7L1239.4,144.9L1239.7,144.1L1239.9,143.4L1240.2,142.6L1240.4,141.8L1240.6,140.9L1240.8,140.1L1241.0,139.3L1241.2,138.5L1241.4,137.7L1241.5,136.9L1241.7,136.0L1241.9,135.2L1242.0,134.4L1242.2,133.6L1242.3,132.8L1242.5,132.0L1242.6,131.1L1242.8,130.3L1242.9,129.5L1243.1,128.7L1243.2,127.9L1243.3,127.1L1243.5,126.3L1243.6,125.4L1243.7,124.6L1243.9,123.8L1244.0,123.0L1244.1,122.1L1244.3,121.3L1244.4,120.5L1244.5,119.7L1244.6,118.9L1244.8,118.0L1244.9,117.2L1245.0,116.4L1245.1,115.5L1245.2,114.7L1245.3,113.9L1245.5,113.1L1245.6,112.2L1245.7,111.4L1245.8,110.6L1245.9,109.7L1246.0,108.9L1246.2,108.1L1246.3,107.3L1246.4,106.4L1246.5,105.6L1246.6,104.8L1246.7,104.0L1246.8,103.1L1247.0,102.3L1247.1,101.5L1247.2,100.7L1247.3,99.8L1247.4,99.0L1247.5,98.2L1247.6,97.4L1247.8,96.6L1247.9,95.7L1248.0,94.9L1248.1,94.1L1248.2,93.3L1248.3,92.5L1248.5,91.7L1248.6,90.9L1248.7,90.1L1248.9,89.2L1249.0,88.4L1249.1,87.6L1249.3,86.8L1249.5,86.0L1249.6,85.2L1249.8,84.3L1250.0,83.5L1250.2,82.7L1250.4,81.8L1250.6,81.0L1250.8,80.1L1251.1,79.3L1251.4,78.5L1251.7,77.7L1252.1,76.9L1252.6,76.3L1253.2,75.8L1253.8,75.6L1254.4,75.9L1254.9,76.5L1255.4,77.2L1255.9,77.9L1256.3,78.7L1256.8,79.4L1257.1,80.1L1257.5,80.9L1257.8,81.7L1258.1,82.4L1258.4,83.2L1258.6,84.0L1258.9,84.8L1259.1,85.6L1259.3,86.4L1259.5,87.2L1259.6,88.0L1259.8,88.8L1259.9,89.7L1260.1,90.5L1260.2,91.3L1260.3,92.2L1260.4,93.0L1260.6,93.8L1260.7,94.7L1260.8,95.5L1260.9,96.3L1261.0,97.1L1261.1,98.0L1261.2,98.8L1261.4,99.6L1261.5,100.5L1261.6,101.3L1261.7,102.1L1261.9,102.9L1262.0,103.8L1262.1,104.6L1262.2,105.4L1262.4,106.2L1262.5,107.0L1262.6,107.9L1262.8,108.7L1262.9,109.5L1263.0,110.3L1263.2,111.1L1263.3,112.0L1263.4,112.8L1263.6,113.6L1263.7,114.4L1263.9,115.2L1264.0,116.0L1264.2,116.9L1264.3,117.7L1264.5,118.5L1264.6,119.3L1264.8,120.1L1264.9,120.9L1265.1,121.8L1265.2,122.6L1265.4,123.4L1265.5,124.2L1265.7,125.0L1265.9,125.9L1266.0,126.7L1266.2,127.5L1266.4,128.3L1266.5,129.1L1266.7,129.9L1266.9,130.8L1267.1,131.6L1267.3,132.4L1267.5,133.2L1267.7,134.0L1267.9,134.8L1268.1,135.6L1268.3,136.4L1268.6,137.2L1268.8,138.0L1269.1,138.8L1269.3,139.6L1269.6,140.4L1269.9,141.1L1270.2,141.9L1270.5,142.7L1270.8,143.4L1271.2,144.2L1271.5,144.9L1271.9,145.6L1272.3,146.4L1272.7,147.1L1273.1,147.8L1273.6,148.5L1274.0,149.2L1274.5,149.9L1275.0,150.6L1275.5,151.3L1276.0,151.9L1276.5,152.6L1277.0,153.3L1277.5,154.0L1277.9,154.7L1278.4,155.4L1278.8,156.1L1279.1,156.8L1279.5,157.6L1279.7,158.3L1280.0,159.1L1280.2,159.9L1280.4,160.7L1280.5,161.6L1280.7,162.4L1280.8,163.2L1280.9,164.1L1281.0,164.9L1281.1,165.8L1281.2,166.7L1281.3,167.5L1281.4,168.3L1281.5,169.2L1281.6,170.0L1281.7,170.9L1281.9,171.7L1282.0,172.5L1282.2,173.3L1282.4,174.1L1282.6,174.9L1282.7,175.7L1282.9,176.5L1283.2,177.3L1283.4,178.1L1283.6,178.9L1283.8,179.7L1284.0,180.5L1284.2,181.3L1284.5,182.1L1284.7,182.9L1284.9,183.7L1285.1,184.6L1285.3,185.4L1285.5,186.2L1285.8,187.0L1286.0,187.8L1286.2,188.6L1286.4,189.4L1286.7,190.2L1286.9,191.0L1287.1,191.8L1287.3,192.6L1287.6,193.4L1287.8,194.2L1288.0,195.0L1288.3,195.8L1288.5,196.6L1288.8,197.4L1289.0,198.2L1289.3,198.9L1289.6,199.7L1289.8,200.5L1290.1,201.3L1290.4,202.0L1290.7,202.8L1291.0,203.6L1291.3,204.3L1291.6,205.1L1292.0,205.8L1292.3,206.6L1292.7,207.4L1293.0,208.1L1293.4,208.9L1293.8,209.6L1294.2,210.4L1294.6,211.1L1295.1,211.9L1295.5,212.6L1296.0,213.4L1296.5,214.1L1297.0,214.9L1297.5,215.5L1298.1,216.2L1298.7,216.7L1299.3,217.2L1300.0,217.6L1300.7,217.9L1301.5,218.0L1302.3,218.1L1303.1,218.1L1304.0,218.2L1304.8,218.2L1305.7,218.2L1306.5,218.3L1307.3,218.5L1308.1,218.7L1308.9,219.0L1309.7,219.4L1310.4,219.8L1311.1,220.2L1311.8,220.6L1312.5,221.1L1313.2,221.6L1313.9,222.0L1314.6,222.5L1315.3,222.9L1316.1,223.2L1316.9,223.6L1317.6,223.8L1318.4,224.1L1319.3,224.3L1320.1,224.4L1320.9,224.5L1321.8,224.7L1322.6,224.7L1323.4,224.8L1324.3,224.8L1325.1,224.9L1325.9,224.9 L1325.90,225.20 L1190.90,225.20 Z" fill="#0000ff" stroke="none"/>
<path d="M1190.9,224.9L1191.8,224.8L1192.6,224.7L1193.5,224.5L1194.3,224.3L1195.0,224.1L1195.8,223.8L1196.6,223.5L1197.3,223.1L1198.0,222.7L1198.7,222.4L1199.5,221.9L1200.2,221.5L1200.9,221.1L1201.6,220.6L1202.3,220.2L1203.0,219.8L1203.7,219.3L1204.5,218.9L1205.2,218.4L1205.9,218.0L1206.6,217.5L1207.3,217.0L1208.0,216.5L1208.6,216.0L1209.2,215.5L1209.8,214.9L1210.3,214.2L1210.8,213.6L1211.2,212.9L1211.7,212.2L1212.0,211.4L1212.4,210.7L1212.8,209.9L1213.1,209.2L1213.4,208.4L1213.8,207.6L1214.1,206.9L1214.4,206.1L1214.7,205.3L1214.9,204.5L1215.2,203.7L1215.5,203.0L1215.7,202.2L1216.0,201.4L1216.2,200.6L1216.4,199.8L1216.7,199.0L1216.9,198.2L1217.1,197.4L1217.3,196.6L1217.5,195.8L1217.7,195.0L1218.0,194.1L1218.2,193.3L1218.4,192.5L1218.6,191.7L1218.8,190.9L1219.0,190.1L1219.2,189.3L1219.4,188.5L1219.6,187.7L1219.8,186.8L1220.0,186.0L1220.2,185.2L1220.4,184.4L1220.6,183.6L1220.8,182.8L1221.0,182.0L1221.2,181.2L1221.4,180.4L1221.7,179.6L1221.9,178.8L1222.1,178.0L1222.4,177.2L1222.6,176.4L1222.9,175.6L1223.1,174.8L1223.4,174.0L1223.7,173.3L1224.0,172.5L1224.3,171.7L1224.6,170.9L1224.9,170.2L1225.2,169.4L1225.5,168.6L1225.9,167.9L1226.2,167.1L1226.6,166.4L1226.9,165.6L1227.3,164.9L1227.7,164.2L1228.1,163.4L1228.5,162.7L1228.9,162.0L1229.3,161.3L1229.7,160.5L1230.2,159.8L1230.6,159.1L1231.1,158.4L1231.5,157.7L1232.0,157.0L1232.5,156.3L1232.9,155.6L1233.4,154.9L1233.9,154.2L1234.4,153.5L1234.8,152.9L1235.3,152.2L1235.8,151.5L1236.2,150.8L1236.7,150.1L1237.1,149.4L1237.5,148.6L1237.9,147.9L1238.3,147.2L1238.7,146.4L1239.0,145.7L1239.4,144.9L1239.7,144.1L1239.9,143.4L1240.2,142.6L1240.4,141.8L1240.6,140.9L1240.8,140.1L1241.0,139.3L1241.2,138.5L1241.4,137.7L1241.5,136.9L1241.7,136.0L1241.9,135.2L1242.0,134.4L1242.2,133.6L1242.3,132.8L1242.5,132.0L1242.6,131.1L1242.8,130.3L1242.9,129.5L1243.1,128.7L1243.2,127.9L1243.3,127.1L1243.5,126.3L1243.6,125.4L1243.7,124.6L1243.9,123.8L1244.0,123.0L1244.1,122.1L1244.3,121.3L1244.4,120.5L1244.5,119.7L1244.6,118.9L1244.8,118.0L1244.9,117.2L1245.0,116.4L1245.1,115.5L1245.2,114.7L1245.3,113.9L1245.5,113.1L1245.6,112.2L1245.7,111.4L1245.8,110.6L1245.9,109.7L1246.0,108.9L1246.2,108.1L1246.3,107.3L1246.4,106.4L1246.5,105.6L1246.6,104.8L1246.7,104.0L1246.8,103.1L1247.0,102.3L1247.1,101.5L1247.2,100.7L1247.3,99.8L1247.4,99.0L1247.5,98.2L1247.6,97.4L1247.8,96.6L1247.9,95.7L1248.0,94.9L1248.1,94.1L1248.2,93.3L1248.3,92.5L1248.5,91.7L1248.6,90.9L1248.7,90.1L1248.9,89.2L1249.0,88.4L1249.1,87.6L1249.3,86.8L1249.5,86.0L1249.6,85.2L1249.8,84.3L1250.0,83.5L1250.2,82.7L1250.4,81.8L1250.6,81.0L1250.8,80.1L1251.1,79.3L1251.4,78.5L1251.7,77.7L1252.1,76.9L1252.6,76.3L1253.2,75.8L1253.8,75.6L1254.4,75.9L1254.9,76.5L1255.4,77.2L1255.9,77.9L1256.3,78.7L1256.8,79.4L1257.1,80.1L1257.5,80.9L1257.8,81.7L1258.1,82.4L1258.4,83.2L1258.6,84.0L1258.9,84.8L1259.1,85.6L1259.3,86.4L1259.5,87.2L1259.6,88.0L1259.8,88.8L1259.9,89.7L1260.1,90.5L1260.2,91.3L1260.3,92.2L1260.4,93.0L1260.6,93.8L1260.7,94.7L1260.8,95.5L1260.9,96.3L1261.0,97.1L1261.1,98.0L1261.2,98.8L1261.4,99.6L1261.5,100.5L1261.6,101.3L1261.7,102.1L1261.9,102.9L1262.0,103.8L1262.1,104.6L1262.2,105.4L1262.4,106.2L1262.5,107.0L1262.6,107.9L1262.8,108.7L1262.9,109.5L1263.0,110.3L1263.2,111.1L1263.3,112.0L1263.4,112.8L1263.6,113.6L1263.7,114.4L1263.9,115.2L1264.0,116.0L1264.2,116.9L1264.3,117.7L1264.5,118.5L1264.6,119.3L1264.8,120.1L1264.9,120.9L1265.1,121.8L1265.2,122.6L1265.4,123.4L1265.5,124.2L1265.7,125.0L1265.9,125.9L1266.0,126.7L1266.2,127.5L1266.4,128.3L1266.5,129.1L1266.7,129.9L1266.9,130.8L1267.1,131.6L1267.3,132.4L1267.5,133.2L1267.7,134.0L1267.9,134.8L1268.1,135.6L1268.3,136.4L1268.6,137.2L1268.8,138.0L1269.1,138.8L1269.3,139.6L1269.6,140.4L1269.9,141.1L1270.2,141.9L1270.5,142.7L1270.8,143.4L1271.2,144.2L1271.5,144.9L1271.9,145.6L1272.3,146.4L1272.7,147.1L1273.1,147.8L1273.6,148.5L1274.0,149.2L1274.5,149.9L1275.0,150.6L1275.5,151.3L1276.0,151.9L1276.5,152.6L1277.0,153.3L1277.5,154.0L1277.9,154.7L1278.4,155.4L1278.8,156.1L1279.1,156.8L1279.5,157.6L1279.7,158.3L1280.0,159.1L1280.2,159.9L1280.4,160.7L1280.5,161.6L1280.7,162.4L1280.8,163.2L1280.9,164.1L1281.0,164.9L1281.1,165.8L1281.2,166.7L1281.3,167.5L1281.4,168.3L1281.5,169.2L1281.6,170.0L1281.7,170.9L1281.9,171.7L1282.0,172.5L1282.2,173.3L1282.4,174.1L1282.6,174.9L1282.7,175.7L1282.9,176.5L1283.2,177.3L1283.4,178.1L1283.6,178.9L1283.8,179.7L1284.0,180.5L1284.2,181.3L1284.5,182.1L1284.7,182.9L1284.9,183.7L1285.1,184.6L1285.3,185.4L1285.5,186.2L1285.8,187.0L1286.0,187.8L1286.2,188.6L1286.4,189.4L1286.7,190.2L1286.9,191.0L1287.1,191.8L1287.3,192.6L1287.6,193.4L1287.8,194.2L1288.0,195.0L1288.3,195.8L1288.5,196.6L1288.8,197.4L1289.0,198.2L1289.3,198.9L1289.6,199.7L1289.8,200.5L1290.1,201.3L1290.4,202.0L1290.7,202.8L1291.0,203.6L1291.3,204.3L1291.6,205.1L1292.0,205.8L1292.3,206.6L1292.7,207.4L1293.0,208.1L1293.4,208.9L1293.8,209.6L1294.2,210.4L1294.6,211.1L1295.1,211.9L1295.5,212.6L1296.0,213.4L1296.5,214.1L1297.0,214.9L1297.5,215.5L1298.1,216.2L1298.7,216.7L1299.3,217.2L1300.0,217.6L1300.7,217.9L1301.5,218.0L1302.3,218.1L1303.1,218.1L1304.0,218.2L1304.8,218.2L1305.7,218.2L1306.5,218.3L1307.3,218.5L1308.1,218.7L1308.9,219.0L1309.7,219.4L1310.4,219.8L1311.1,220.2L1311.8,220.6L1312.5,221.1L1313.2,221.6L1313.9,222.0L1314.6,222.5L1315.3,222.9L1316.1,223.2L1316.9,223.6L1317.6,223.8L1318.4,224.1L1319.3,224.3L1320.1,224.4L1320.9,224.5L1321.8,224.7L1322.6,224.7L1323.4,224.8L1324.3,224.8L1325.1,224.9L1325.9,224.9" fill="none" stroke="#000" stroke-width="3.70" stroke-linejoin="round" stroke-linecap="butt"/>
<path d="M1264.10,35.60V225.20" stroke="#ff0000" stroke-width="3.70" fill="none"/>
<path d="M1234.80,63.70H1273.20 M1234.80,53.00V74.30 M1273.20,53.00V76.10" stroke="#0000ff" stroke-width="3.80" fill="none"/>
<path d="M1254.00,53.00V63.70" stroke="#0000ff" stroke-width="3.80" fill="none"/>
<text class="t b" x="1288.50" y="78.20">mean value</text>
<text class="t r" x="1288.80" y="108.40">MAP value</text>
<text class="t" text-anchor="middle" x="1099.40" y="260.00">1</text>
<text class="t" text-anchor="middle" x="1236.20" y="260.00">1.1</text>
<text class="t" text-anchor="middle" x="1373.00" y="260.00">1.2</text>
<text class="t" text-anchor="middle" x="1509.80" y="260.00">1.3</text>
<text class="t"><tspan class="t" x="1136.20" y="304.30">Seabed density (</tspan><tspan class="t i" x="1336.48" y="304.30" textLength="17.00" lengthAdjust="spacingAndGlyphs">ρ</tspan><tspan class="s" x="1351.08" y="317.70">2</tspan><tspan class="t" x="1365.08" y="304.30">) </tspan><tspan class="t" x="1382.67" y="304.30">/ </tspan><tspan class="t" x="1399.21" y="304.30">g</tspan><tspan class="t" x="1415.71" y="304.30">·</tspan><tspan class="t" x="1425.10" y="304.30">cm</tspan><tspan class="s" x="1463.45" y="290.90">-3</tspan></text>
</g>
<g>
<text class="L" x="-0.10" y="390.90">D</text>
<rect x="37.70" y="400.80" width="413.40" height="184.20" fill="none" stroke="#262626" stroke-width="3.70"/>
<path d="M244.40,585.00v-5.90 M244.40,400.80v5.90" stroke="#262626" stroke-width="3.30" fill="none"/>
<path d="M140.2,585.0L141.0,585.1L141.9,585.1L142.7,585.1L143.6,585.1L144.4,585.1L145.3,585.0L146.1,585.0L146.9,584.9L147.7,584.8L148.6,584.6L149.4,584.5L150.2,584.3L151.0,584.1L151.8,583.9L152.6,583.7L153.4,583.4L154.2,583.2L155.0,582.9L155.7,582.6L156.5,582.3L157.3,581.9L158.1,581.6L158.8,581.3L159.6,580.9L160.3,580.5L161.1,580.1L161.8,579.7L162.5,579.3L163.3,578.9L164.0,578.5L164.7,578.0L165.4,577.6L166.1,577.1L166.8,576.7L167.5,576.2L168.2,575.7L168.8,575.2L169.5,574.7L170.2,574.2L170.8,573.7L171.4,573.2L172.1,572.6L172.7,572.1L173.3,571.5L173.9,571.0L174.5,570.4L175.1,569.8L175.7,569.2L176.3,568.6L176.8,568.0L177.4,567.4L177.9,566.7L178.4,566.1L179.0,565.5L179.5,564.8L180.0,564.1L180.5,563.5L181.0,562.8L181.4,562.1L181.9,561.4L182.4,560.7L182.9,560.0L183.3,559.3L183.8,558.6L184.2,557.9L184.7,557.2L185.1,556.5L185.5,555.8L186.0,555.0L186.4,554.3L186.8,553.6L187.3,552.9L187.7,552.2L188.1,551.4L188.5,550.7L189.0,550.0L189.4,549.3L189.8,548.5L190.2,547.8L190.6,547.1L191.0,546.4L191.4,545.6L191.8,544.9L192.2,544.2L192.6,543.4L193.0,542.7L193.3,541.9L193.7,541.2L194.1,540.5L194.5,539.7L194.8,539.0L195.2,538.2L195.5,537.5L195.9,536.7L196.2,535.9L196.6,535.2L196.9,534.4L197.2,533.7L197.5,532.9L197.9,532.1L198.2,531.4L198.5,530.6L198.8,529.8L199.1,529.1L199.4,528.3L199.6,527.5L199.9,526.7L200.2,525.9L200.5,525.1L200.7,524.4L201.0,523.6L201.2,522.8L201.5,522.0L201.7,521.2L201.9,520.4L202.1,519.6L202.3,518.8L202.6,517.9L202.8,517.1L203.0,516.3L203.1,515.5L203.3,514.7L203.5,513.9L203.7,513.0L203.9,512.2L204.0,511.4L204.2,510.6L204.4,509.8L204.6,508.9L204.7,508.1L204.9,507.3L205.0,506.5L205.2,505.6L205.4,504.8L205.5,504.0L205.7,503.2L205.8,502.3L206.0,501.5L206.2,500.7L206.3,499.9L206.5,499.1L206.6,498.3L206.8,497.4L207.0,496.6L207.2,495.8L207.3,495.0L207.5,494.2L207.7,493.4L207.9,492.6L208.0,491.8L208.2,491.0L208.4,490.2L208.6,489.4L208.8,488.6L209.0,487.8L209.2,487.0L209.3,486.1L209.5,485.3L209.7,484.5L209.9,483.7L210.2,482.9L210.4,482.1L210.6,481.3L210.8,480.5L211.0,479.7L211.2,478.9L211.4,478.1L211.7,477.3L211.9,476.5L212.1,475.7L212.4,474.9L212.6,474.1L212.8,473.3L213.1,472.5L213.3,471.6L213.6,470.8L213.8,470.0L214.1,469.2L214.3,468.4L214.6,467.6L214.9,466.8L215.2,466.0L215.5,465.2L215.9,464.5L216.3,463.8L216.7,463.1L217.2,462.4L217.7,461.8L218.3,461.2L218.9,460.7L219.6,460.2L220.4,459.8L221.1,459.5L222.0,459.2L222.8,459.1L223.6,459.0L224.4,459.0L225.2,459.1L226.0,459.3L226.8,459.5L227.6,459.8L228.4,460.2L229.1,460.6L229.9,461.1L230.6,461.6L231.3,462.1L231.9,462.6L232.6,463.2L233.2,463.7L233.8,464.2L234.4,464.8L235.0,465.3L235.6,465.9L236.2,466.4L236.8,467.0L237.4,467.6L238.1,468.2L238.8,468.8L239.5,469.3L240.2,469.8L240.9,470.3L241.7,470.7L242.4,470.9L243.1,471.1L243.9,471.1L244.6,471.0L245.3,470.8L246.0,470.5L246.6,470.0L247.3,469.5L247.9,468.9L248.5,468.2L249.1,467.5L249.6,466.8L250.2,466.0L250.6,465.2L251.1,464.5L251.5,463.7L251.9,463.0L252.3,462.3L252.7,461.6L253.2,461.0L253.8,460.4L254.5,459.9L255.2,459.5L256.0,459.3L256.7,459.2L257.5,459.4L258.2,459.8L258.9,460.3L259.5,460.9L260.0,461.5L260.4,462.3L260.7,463.0L261.0,463.8L261.2,464.6L261.5,465.4L261.7,466.2L261.9,467.1L262.1,467.9L262.4,468.7L262.6,469.5L262.8,470.3L263.0,471.1L263.2,471.9L263.4,472.8L263.6,473.6L263.8,474.4L263.9,475.2L264.1,476.0L264.3,476.8L264.5,477.7L264.7,478.5L264.8,479.3L265.0,480.1L265.2,480.9L265.3,481.8L265.5,482.6L265.7,483.4L265.8,484.2L266.0,485.0L266.2,485.8L266.3,486.7L266.5,487.5L266.6,488.3L266.8,489.1L266.9,489.9L267.1,490.7L267.2,491.6L267.4,492.4L267.5,493.2L267.7,494.0L267.8,494.8L268.0,495.7L268.1,496.5L268.3,497.3L268.5,498.1L268.6,498.9L268.8,499.7L268.9,500.6L269.1,501.4L269.2,502.2L269.4,503.0L269.5,503.8L269.7,504.6L269.9,505.5L270.0,506.3L270.2,507.1L270.4,507.9L270.5,508.7L270.7,509.5L270.9,510.3L271.0,511.2L271.2,512.0L271.4,512.8L271.6,513.6L271.8,514.4L271.9,515.2L272.1,516.0L272.3,516.8L272.5,517.7L272.7,518.5L272.9,519.3L273.1,520.1L273.3,520.9L273.5,521.7L273.7,522.5L273.9,523.3L274.1,524.1L274.3,525.0L274.5,525.8L274.7,526.6L274.9,527.4L275.1,528.2L275.3,529.0L275.4,529.8L275.6,530.6L275.8,531.4L276.0,532.3L276.2,533.1L276.4,533.9L276.6,534.7L276.8,535.5L277.0,536.3L277.2,537.1L277.4,537.9L277.6,538.8L277.8,539.6L278.0,540.4L278.1,541.2L278.3,542.0L278.5,542.8L278.7,543.6L278.9,544.5L279.0,545.3L279.2,546.1L279.4,546.9L279.6,547.7L279.7,548.6L279.9,549.4L280.1,550.2L280.2,551.0L280.4,551.8L280.6,552.6L280.8,553.4L281.0,554.3L281.1,555.1L281.3,555.9L281.5,556.7L281.7,557.5L281.9,558.3L282.1,559.1L282.3,559.9L282.6,560.7L282.8,561.5L283.0,562.3L283.3,563.1L283.5,563.9L283.8,564.7L284.1,565.5L284.3,566.2L284.6,567.0L284.9,567.8L285.2,568.6L285.6,569.3L285.9,570.1L286.2,570.9L286.6,571.6L287.0,572.4L287.3,573.1L287.7,573.9L288.2,574.6L288.6,575.3L289.0,576.1L289.5,576.8L290.0,577.5L290.5,578.1L291.0,578.8L291.5,579.4L292.1,580.1L292.6,580.6L293.2,581.2L293.9,581.7L294.5,582.2L295.2,582.7L295.9,583.1L296.6,583.5L297.4,583.8L298.2,584.1L299.0,584.4L299.8,584.6L300.6,584.7L301.5,584.9L302.4,584.9L303.2,585.0L304.1,585.0L304.9,585.0L305.7,585.0L306.5,585.0 L306.50,585.30 L140.20,585.30 Z" fill="#0000ff" stroke="none"/>
<path d="M140.2,585.0L141.0,585.1L141.9,585.1L142.7,585.1L143.6,585.1L144.4,585.1L145.3,585.0L146.1,585.0L146.9,584.9L147.7,584.8L148.6,584.6L149.4,584.5L150.2,584.3L151.0,584.1L151.8,583.9L152.6,583.7L153.4,583.4L154.2,583.2L155.0,582.9L155.7,582.6L156.5,582.3L157.3,581.9L158.1,581.6L158.8,581.3L159.6,580.9L160.3,580.5L161.1,580.1L161.8,579.7L162.5,579.3L163.3,578.9L164.0,578.5L164.7,578.0L165.4,577.6L166.1,577.1L166.8,576.7L167.5,576.2L168.2,575.7L168.8,575.2L169.5,574.7L170.2,574.2L170.8,573.7L171.4,573.2L172.1,572.6L172.7,572.1L173.3,571.5L173.9,571.0L174.5,570.4L175.1,569.8L175.7,569.2L176.3,568.6L176.8,568.0L177.4,567.4L177.9,566.7L178.4,566.1L179.0,565.5L179.5,564.8L180.0,564.1L180.5,563.5L181.0,562.8L181.4,562.1L181.9,561.4L182.4,560.7L182.9,560.0L183.3,559.3L183.8,558.6L184.2,557.9L184.7,557.2L185.1,556.5L185.5,555.8L186.0,555.0L186.4,554.3L186.8,553.6L187.3,552.9L187.7,552.2L188.1,551.4L188.5,550.7L189.0,550.0L189.4,549.3L189.8,548.5L190.2,547.8L190.6,547.1L191.0,546.4L191.4,545.6L191.8,544.9L192.2,544.2L192.6,543.4L193.0,542.7L193.3,541.9L193.7,541.2L194.1,540.5L194.5,539.7L194.8,539.0L195.2,538.2L195.5,537.5L195.9,536.7L196.2,535.9L196.6,535.2L196.9,534.4L197.2,533.7L197.5,532.9L197.9,532.1L198.2,531.4L198.5,530.6L198.8,529.8L199.1,529.1L199.4,528.3L199.6,527.5L199.9,526.7L200.2,525.9L200.5,525.1L200.7,524.4L201.0,523.6L201.2,522.8L201.5,522.0L201.7,521.2L201.9,520.4L202.1,519.6L202.3,518.8L202.6,517.9L202.8,517.1L203.0,516.3L203.1,515.5L203.3,514.7L203.5,513.9L203.7,513.0L203.9,512.2L204.0,511.4L204.2,510.6L204.4,509.8L204.6,508.9L204.7,508.1L204.9,507.3L205.0,506.5L205.2,505.6L205.4,504.8L205.5,504.0L205.7,503.2L205.8,502.3L206.0,501.5L206.2,500.7L206.3,499.9L206.5,499.1L206.6,498.3L206.8,497.4L207.0,496.6L207.2,495.8L207.3,495.0L207.5,494.2L207.7,493.4L207.9,492.6L208.0,491.8L208.2,491.0L208.4,490.2L208.6,489.4L208.8,488.6L209.0,487.8L209.2,487.0L209.3,486.1L209.5,485.3L209.7,484.5L209.9,483.7L210.2,482.9L210.4,482.1L210.6,481.3L210.8,480.5L211.0,479.7L211.2,478.9L211.4,478.1L211.7,477.3L211.9,476.5L212.1,475.7L212.4,474.9L212.6,474.1L212.8,473.3L213.1,472.5L213.3,471.6L213.6,470.8L213.8,470.0L214.1,469.2L214.3,468.4L214.6,467.6L214.9,466.8L215.2,466.0L215.5,465.2L215.9,464.5L216.3,463.8L216.7,463.1L217.2,462.4L217.7,461.8L218.3,461.2L218.9,460.7L219.6,460.2L220.4,459.8L221.1,459.5L222.0,459.2L222.8,459.1L223.6,459.0L224.4,459.0L225.2,459.1L226.0,459.3L226.8,459.5L227.6,459.8L228.4,460.2L229.1,460.6L229.9,461.1L230.6,461.6L231.3,462.1L231.9,462.6L232.6,463.2L233.2,463.7L233.8,464.2L234.4,464.8L235.0,465.3L235.6,465.9L236.2,466.4L236.8,467.0L237.4,467.6L238.1,468.2L238.8,468.8L239.5,469.3L240.2,469.8L240.9,470.3L241.7,470.7L242.4,470.9L243.1,471.1L243.9,471.1L244.6,471.0L245.3,470.8L246.0,470.5L246.6,470.0L247.3,469.5L247.9,468.9L248.5,468.2L249.1,467.5L249.6,466.8L250.2,466.0L250.6,465.2L251.1,464.5L251.5,463.7L251.9,463.0L252.3,462.3L252.7,461.6L253.2,461.0L253.8,460.4L254.5,459.9L255.2,459.5L256.0,459.3L256.7,459.2L257.5,459.4L258.2,459.8L258.9,460.3L259.5,460.9L260.0,461.5L260.4,462.3L260.7,463.0L261.0,463.8L261.2,464.6L261.5,465.4L261.7,466.2L261.9,467.1L262.1,467.9L262.4,468.7L262.6,469.5L262.8,470.3L263.0,471.1L263.2,471.9L263.4,472.8L263.6,473.6L263.8,474.4L263.9,475.2L264.1,476.0L264.3,476.8L264.5,477.7L264.7,478.5L264.8,479.3L265.0,480.1L265.2,480.9L265.3,481.8L265.5,482.6L265.7,483.4L265.8,484.2L266.0,485.0L266.2,485.8L266.3,486.7L266.5,487.5L266.6,488.3L266.8,489.1L266.9,489.9L267.1,490.7L267.2,491.6L267.4,492.4L267.5,493.2L267.7,494.0L267.8,494.8L268.0,495.7L268.1,496.5L268.3,497.3L268.5,498.1L268.6,498.9L268.8,499.7L268.9,500.6L269.1,501.4L269.2,502.2L269.4,503.0L269.5,503.8L269.7,504.6L269.9,505.5L270.0,506.3L270.2,507.1L270.4,507.9L270.5,508.7L270.7,509.5L270.9,510.3L271.0,511.2L271.2,512.0L271.4,512.8L271.6,513.6L271.8,514.4L271.9,515.2L272.1,516.0L272.3,516.8L272.5,517.7L272.7,518.5L272.9,519.3L273.1,520.1L273.3,520.9L273.5,521.7L273.7,522.5L273.9,523.3L274.1,524.1L274.3,525.0L274.5,525.8L274.7,526.6L274.9,527.4L275.1,528.2L275.3,529.0L275.4,529.8L275.6,530.6L275.8,531.4L276.0,532.3L276.2,533.1L276.4,533.9L276.6,534.7L276.8,535.5L277.0,536.3L277.2,537.1L277.4,537.9L277.6,538.8L277.8,539.6L278.0,540.4L278.1,541.2L278.3,542.0L278.5,542.8L278.7,543.6L278.9,544.5L279.0,545.3L279.2,546.1L279.4,546.9L279.6,547.7L279.7,548.6L279.9,549.4L280.1,550.2L280.2,551.0L280.4,551.8L280.6,552.6L280.8,553.4L281.0,554.3L281.1,555.1L281.3,555.9L281.5,556.7L281.7,557.5L281.9,558.3L282.1,559.1L282.3,559.9L282.6,560.7L282.8,561.5L283.0,562.3L283.3,563.1L283.5,563.9L283.8,564.7L284.1,565.5L284.3,566.2L284.6,567.0L284.9,567.8L285.2,568.6L285.6,569.3L285.9,570.1L286.2,570.9L286.6,571.6L287.0,572.4L287.3,573.1L287.7,573.9L288.2,574.6L288.6,575.3L289.0,576.1L289.5,576.8L290.0,577.5L290.5,578.1L291.0,578.8L291.5,579.4L292.1,580.1L292.6,580.6L293.2,581.2L293.9,581.7L294.5,582.2L295.2,582.7L295.9,583.1L296.6,583.5L297.4,583.8L298.2,584.1L299.0,584.4L299.8,584.6L300.6,584.7L301.5,584.9L302.4,584.9L303.2,585.0L304.1,585.0L304.9,585.0L305.7,585.0L306.5,585.0" fill="none" stroke="#000" stroke-width="3.70" stroke-linejoin="round" stroke-linecap="butt"/>
<path d="M244.30,400.80V585.30" stroke="#ff0000" stroke-width="3.70" fill="none"/>
<path d="M208.90,430.05H259.00 M208.90,420.00V440.40 M259.00,420.00V442.20" stroke="#0000ff" stroke-width="3.80" fill="none"/>
<path d="M234.00,420.00V430.05" stroke="#0000ff" stroke-width="3.80" fill="none"/>
<text class="t b" x="276.80" y="441.20">mean value</text>
<text class="t r" x="274.90" y="474.70">MAP value</text>
<text class="t" text-anchor="middle" x="37.00" y="619.80">0.09</text>
<text class="t" text-anchor="middle" x="243.70" y="619.80">0.1</text>
<text class="t" text-anchor="middle" x="450.40" y="619.80">0.11</text>
<text class="t"><tspan class="t" x="40.50" y="664.90">P-wave attenuation </tspan><tspan class="t" x="279.96" y="664.90">(</tspan><tspan class="t i" x="291.35" y="664.90" textLength="19.50" lengthAdjust="spacingAndGlyphs">α</tspan><tspan class="s i" x="309.89" y="678.30">p</tspan><tspan class="s" x="324.79" y="678.30">2</tspan><tspan class="t" x="338.69" y="664.90">) </tspan><tspan class="t" x="356.18" y="664.90">/ </tspan><tspan class="t" x="372.82" y="664.90">dB</tspan><tspan class="t" x="407.53" y="664.90">·</tspan><tspan class="t i" x="419.02" y="664.90" textLength="15.70" lengthAdjust="spacingAndGlyphs">λ</tspan><tspan class="s" x="435.61" y="651.50">-1</tspan></text>
</g>
<g>
<text class="L" x="531.70" y="391.00">E</text>
<rect x="572.40" y="408.80" width="410.90" height="198.20" fill="none" stroke="#262626" stroke-width="4.10"/>
<path d="M777.85,607.00v-5.90 M777.85,408.80v5.90" stroke="#262626" stroke-width="3.30" fill="none"/>
<path d="M679.7,607.0L680.9,606.9L682.1,606.8L683.2,606.7L684.4,606.5L685.6,606.3L686.8,606.1L688.0,605.9L689.2,605.6L690.4,605.3L691.6,605.0L692.8,604.6L693.9,604.2L695.1,603.8L696.2,603.4L697.4,602.9L698.5,602.4L699.6,601.9L700.7,601.4L701.8,600.8L702.9,600.2L704.0,599.6L705.0,598.9L706.0,598.2L707.0,597.5L707.9,596.8L708.9,596.0L709.8,595.2L710.7,594.4L711.5,593.6L712.4,592.7L713.2,591.8L713.9,590.9L714.6,590.0L715.3,589.0L716.0,588.0L716.6,587.0L717.2,586.0L717.7,584.9L718.2,583.8L718.7,582.7L719.1,581.5L719.5,580.4L719.9,579.2L720.2,578.0L720.6,576.8L720.9,575.6L721.3,574.4L721.6,573.2L722.0,572.0L722.4,570.8L722.8,569.7L723.2,568.5L723.6,567.3L724.1,566.2L724.7,565.2L725.4,564.2L726.2,563.3L727.2,562.6L728.3,562.0L729.5,561.6L730.7,561.5L731.9,561.5L733.0,561.8L734.0,562.3L734.9,563.0L735.8,563.8L736.6,564.8L737.4,565.8L738.2,566.9L738.8,568.0L739.5,569.1L740.1,570.2L740.7,571.3L741.3,572.3L741.8,573.3L742.5,574.3L743.1,575.2L743.9,576.2L744.7,577.1L745.6,577.9L746.6,578.7L747.8,579.3L749.0,579.7L750.2,579.9L751.3,579.6L752.2,579.0L753.1,578.2L753.8,577.2L754.5,576.1L755.1,575.0L755.7,573.9L756.2,572.8L756.7,571.6L757.1,570.5L757.5,569.3L757.8,568.2L758.2,567.0L758.5,565.8L758.7,564.7L759.0,563.5L759.2,562.3L759.5,561.1L759.7,559.9L759.9,558.7L760.2,557.5L760.4,556.3L760.7,555.1L760.9,554.0L761.1,552.8L761.4,551.6L761.6,550.4L761.8,549.2L762.1,548.0L762.3,546.8L762.5,545.6L762.8,544.4L763.0,543.2L763.2,542.1L763.5,540.9L763.7,539.7L763.9,538.5L764.2,537.3L764.4,536.1L764.6,534.9L764.8,533.7L765.0,532.5L765.3,531.3L765.5,530.1L765.7,529.0L765.9,527.8L766.1,526.6L766.3,525.4L766.5,524.2L766.8,523.0L767.0,521.8L767.2,520.6L767.4,519.4L767.5,518.2L767.7,517.0L767.9,515.8L768.1,514.6L768.3,513.4L768.5,512.2L768.7,511.0L768.8,509.8L769.0,508.6L769.2,507.4L769.4,506.2L769.5,505.0L769.7,503.8L769.9,502.6L770.1,501.4L770.2,500.2L770.4,499.0L770.6,497.8L770.8,496.6L771.0,495.4L771.1,494.2L771.3,493.0L771.5,491.8L771.7,490.6L771.9,489.4L772.1,488.2L772.3,487.0L772.5,485.8L772.7,484.6L773.0,483.4L773.2,482.3L773.4,481.1L773.6,479.9L773.8,478.7L774.1,477.5L774.3,476.3L774.5,475.1L774.7,473.9L774.9,472.7L775.2,471.5L775.4,470.3L775.6,469.1L775.8,467.9L776.0,466.6L776.3,465.4L776.7,464.3L777.2,463.2L777.9,462.1L778.7,461.2L779.8,460.6L780.8,460.5L781.8,461.1L782.6,462.1L783.3,463.2L783.8,464.3L784.2,465.4L784.5,466.6L784.8,467.8L785.1,469.0L785.3,470.2L785.6,471.4L785.9,472.6L786.2,473.7L786.5,474.9L786.7,476.1L787.0,477.3L787.3,478.5L787.6,479.7L787.9,480.8L788.1,482.0L788.4,483.2L788.7,484.4L789.0,485.6L789.3,486.7L789.6,487.9L789.9,489.1L790.2,490.3L790.5,491.4L790.8,492.6L791.1,493.8L791.4,494.9L791.7,496.1L792.0,497.3L792.3,498.5L792.6,499.6L793.0,500.8L793.3,502.0L793.6,503.1L793.9,504.3L794.2,505.5L794.6,506.6L794.9,507.8L795.2,509.0L795.6,510.1L795.9,511.3L796.2,512.5L796.6,513.6L796.9,514.8L797.3,516.0L797.6,517.1L798.0,518.3L798.3,519.4L798.7,520.6L799.0,521.8L799.4,522.9L799.7,524.1L800.1,525.3L800.5,526.4L800.8,527.6L801.2,528.7L801.5,529.9L801.9,531.1L802.2,532.2L802.6,533.4L802.9,534.6L803.3,535.7L803.6,536.9L804.0,538.1L804.3,539.2L804.7,540.4L805.0,541.5L805.3,542.7L805.7,543.9L806.0,545.0L806.3,546.2L806.6,547.4L806.9,548.6L807.2,549.7L807.5,550.9L807.8,552.1L808.1,553.2L808.4,554.4L808.7,555.6L809.0,556.8L809.2,557.9L809.5,559.1L809.8,560.3L810.1,561.5L810.3,562.6L810.6,563.8L810.9,565.0L811.3,566.1L811.6,567.3L811.9,568.5L812.3,569.6L812.7,570.8L813.1,572.0L813.5,573.1L814.0,574.3L814.4,575.4L814.9,576.6L815.5,577.7L816.1,578.8L816.7,579.9L817.4,580.9L818.1,581.8L818.9,582.7L819.8,583.5L820.7,584.1L821.7,584.7L822.8,585.1L824.1,585.3L825.3,585.5L826.6,585.6L827.9,585.9L829.1,586.2L830.2,586.7L831.2,587.3L832.1,588.0L833.0,588.8L833.9,589.6L834.7,590.5L835.5,591.4L836.3,592.3L837.1,593.3L837.9,594.2L838.7,595.1L839.5,596.1L840.3,596.9L841.2,597.8L842.1,598.6L843.0,599.4L844.0,600.1L845.0,600.8L846.1,601.4L847.2,601.9L848.3,602.4L849.4,602.9L850.6,603.2L851.8,603.5L852.9,603.8L854.1,604.0L855.3,604.1L856.5,604.1L857.7,604.1L858.9,604.0L860.2,603.9L861.4,603.7L862.6,603.5L863.8,603.2L865.0,602.9L866.2,602.5L867.4,602.1L868.6,601.8L869.7,601.5L870.9,601.4L872.1,601.5L873.2,601.8L874.3,602.1L875.5,602.6L876.6,603.1L877.8,603.6L878.9,604.1L880.1,604.6L881.2,605.0L882.4,605.3L883.6,605.6L884.8,605.8L885.9,606.0L887.1,606.0L888.3,606.0L889.5,606.0L890.7,605.8L891.8,605.5L893.0,605.2L894.2,604.9L895.3,604.4L896.4,603.9L897.6,603.4L898.7,602.8L899.8,602.2L900.8,601.5L901.9,600.9L902.9,600.2L903.9,599.5L905.0,598.8L906.0,598.2L907.0,597.6L908.1,597.1L909.2,596.6L910.3,596.3L911.4,596.0L912.6,595.8L913.8,595.6L915.0,595.5L916.2,595.4L917.4,595.2L918.6,595.0L919.8,594.7L921.0,594.3L922.2,593.8L923.4,593.3L924.5,592.8L925.7,592.4L926.8,592.0L928.0,591.8L929.1,591.8L930.2,592.0L931.2,592.4L932.3,592.9L933.3,593.6L934.3,594.4L935.2,595.3L936.0,596.3L936.8,597.3L937.6,598.3L938.3,599.3L939.0,600.3L939.6,601.3L940.4,602.2L941.1,603.1L942.0,603.9L942.9,604.5L944.0,605.1L945.2,605.6L946.4,606.0L947.7,606.3L949.0,606.5L950.3,606.7L951.5,606.8L952.6,606.9L953.6,607.0 L953.60,607.30 L679.70,607.30 Z" fill="#0000ff" stroke="none"/>
<path d="M679.7,607.0L680.9,606.9L682.1,606.8L683.2,606.7L684.4,606.5L685.6,606.3L686.8,606.1L688.0,605.9L689.2,605.6L690.4,605.3L691.6,605.0L692.8,604.6L693.9,604.2L695.1,603.8L696.2,603.4L697.4,602.9L698.5,602.4L699.6,601.9L700.7,601.4L701.8,600.8L702.9,600.2L704.0,599.6L705.0,598.9L706.0,598.2L707.0,597.5L707.9,596.8L708.9,596.0L709.8,595.2L710.7,594.4L711.5,593.6L712.4,592.7L713.2,591.8L713.9,590.9L714.6,590.0L715.3,589.0L716.0,588.0L716.6,587.0L717.2,586.0L717.7,584.9L718.2,583.8L718.7,582.7L719.1,581.5L719.5,580.4L719.9,579.2L720.2,578.0L720.6,576.8L720.9,575.6L721.3,574.4L721.6,573.2L722.0,572.0L722.4,570.8L722.8,569.7L723.2,568.5L723.6,567.3L724.1,566.2L724.7,565.2L725.4,564.2L726.2,563.3L727.2,562.6L728.3,562.0L729.5,561.6L730.7,561.5L731.9,561.5L733.0,561.8L734.0,562.3L734.9,563.0L735.8,563.8L736.6,564.8L737.4,565.8L738.2,566.9L738.8,568.0L739.5,569.1L740.1,570.2L740.7,571.3L741.3,572.3L741.8,573.3L742.5,574.3L743.1,575.2L743.9,576.2L744.7,577.1L745.6,577.9L746.6,578.7L747.8,579.3L749.0,579.7L750.2,579.9L751.3,579.6L752.2,579.0L753.1,578.2L753.8,577.2L754.5,576.1L755.1,575.0L755.7,573.9L756.2,572.8L756.7,571.6L757.1,570.5L757.5,569.3L757.8,568.2L758.2,567.0L758.5,565.8L758.7,564.7L759.0,563.5L759.2,562.3L759.5,561.1L759.7,559.9L759.9,558.7L760.2,557.5L760.4,556.3L760.7,555.1L760.9,554.0L761.1,552.8L761.4,551.6L761.6,550.4L761.8,549.2L762.1,548.0L762.3,546.8L762.5,545.6L762.8,544.4L763.0,543.2L763.2,542.1L763.5,540.9L763.7,539.7L763.9,538.5L764.2,537.3L764.4,536.1L764.6,534.9L764.8,533.7L765.0,532.5L765.3,531.3L765.5,530.1L765.7,529.0L765.9,527.8L766.1,526.6L766.3,525.4L766.5,524.2L766.8,523.0L767.0,521.8L767.2,520.6L767.4,519.4L767.5,518.2L767.7,517.0L767.9,515.8L768.1,514.6L768.3,513.4L768.5,512.2L768.7,511.0L768.8,509.8L769.0,508.6L769.2,507.4L769.4,506.2L769.5,505.0L769.7,503.8L769.9,502.6L770.1,501.4L770.2,500.2L770.4,499.0L770.6,497.8L770.8,496.6L771.0,495.4L771.1,494.2L771.3,493.0L771.5,491.8L771.7,490.6L771.9,489.4L772.1,488.2L772.3,487.0L772.5,485.8L772.7,484.6L773.0,483.4L773.2,482.3L773.4,481.1L773.6,479.9L773.8,478.7L774.1,477.5L774.3,476.3L774.5,475.1L774.7,473.9L774.9,472.7L775.2,471.5L775.4,470.3L775.6,469.1L775.8,467.9L776.0,466.6L776.3,465.4L776.7,464.3L777.2,463.2L777.9,462.1L778.7,461.2L779.8,460.6L780.8,460.5L781.8,461.1L782.6,462.1L783.3,463.2L783.8,464.3L784.2,465.4L784.5,466.6L784.8,467.8L785.1,469.0L785.3,470.2L785.6,471.4L785.9,472.6L786.2,473.7L786.5,474.9L786.7,476.1L787.0,477.3L787.3,478.5L787.6,479.7L787.9,480.8L788.1,482.0L788.4,483.2L788.7,484.4L789.0,485.6L789.3,486.7L789.6,487.9L789.9,489.1L790.2,490.3L790.5,491.4L790.8,492.6L791.1,493.8L791.4,494.9L791.7,496.1L792.0,497.3L792.3,498.5L792.6,499.6L793.0,500.8L793.3,502.0L793.6,503.1L793.9,504.3L794.2,505.5L794.6,506.6L794.9,507.8L795.2,509.0L795.6,510.1L795.9,511.3L796.2,512.5L796.6,513.6L796.9,514.8L797.3,516.0L797.6,517.1L798.0,518.3L798.3,519.4L798.7,520.6L799.0,521.8L799.4,522.9L799.7,524.1L800.1,525.3L800.5,526.4L800.8,527.6L801.2,528.7L801.5,529.9L801.9,531.1L802.2,532.2L802.6,533.4L802.9,534.6L803.3,535.7L803.6,536.9L804.0,538.1L804.3,539.2L804.7,540.4L805.0,541.5L805.3,542.7L805.7,543.9L806.0,545.0L806.3,546.2L806.6,547.4L806.9,548.6L807.2,549.7L807.5,550.9L807.8,552.1L808.1,553.2L808.4,554.4L808.7,555.6L809.0,556.8L809.2,557.9L809.5,559.1L809.8,560.3L810.1,561.5L810.3,562.6L810.6,563.8L810.9,565.0L811.3,566.1L811.6,567.3L811.9,568.5L812.3,569.6L812.7,570.8L813.1,572.0L813.5,573.1L814.0,574.3L814.4,575.4L814.9,576.6L815.5,577.7L816.1,578.8L816.7,579.9L817.4,580.9L818.1,581.8L818.9,582.7L819.8,583.5L820.7,584.1L821.7,584.7L822.8,585.1L824.1,585.3L825.3,585.5L826.6,585.6L827.9,585.9L829.1,586.2L830.2,586.7L831.2,587.3L832.1,588.0L833.0,588.8L833.9,589.6L834.7,590.5L835.5,591.4L836.3,592.3L837.1,593.3L837.9,594.2L838.7,595.1L839.5,596.1L840.3,596.9L841.2,597.8L842.1,598.6L843.0,599.4L844.0,600.1L845.0,600.8L846.1,601.4L847.2,601.9L848.3,602.4L849.4,602.9L850.6,603.2L851.8,603.5L852.9,603.8L854.1,604.0L855.3,604.1L856.5,604.1L857.7,604.1L858.9,604.0L860.2,603.9L861.4,603.7L862.6,603.5L863.8,603.2L865.0,602.9L866.2,602.5L867.4,602.1L868.6,601.8L869.7,601.5L870.9,601.4L872.1,601.5L873.2,601.8L874.3,602.1L875.5,602.6L876.6,603.1L877.8,603.6L878.9,604.1L880.1,604.6L881.2,605.0L882.4,605.3L883.6,605.6L884.8,605.8L885.9,606.0L887.1,606.0L888.3,606.0L889.5,606.0L890.7,605.8L891.8,605.5L893.0,605.2L894.2,604.9L895.3,604.4L896.4,603.9L897.6,603.4L898.7,602.8L899.8,602.2L900.8,601.5L901.9,600.9L902.9,600.2L903.9,599.5L905.0,598.8L906.0,598.2L907.0,597.6L908.1,597.1L909.2,596.6L910.3,596.3L911.4,596.0L912.6,595.8L913.8,595.6L915.0,595.5L916.2,595.4L917.4,595.2L918.6,595.0L919.8,594.7L921.0,594.3L922.2,593.8L923.4,593.3L924.5,592.8L925.7,592.4L926.8,592.0L928.0,591.8L929.1,591.8L930.2,592.0L931.2,592.4L932.3,592.9L933.3,593.6L934.3,594.4L935.2,595.3L936.0,596.3L936.8,597.3L937.6,598.3L938.3,599.3L939.0,600.3L939.6,601.3L940.4,602.2L941.1,603.1L942.0,603.9L942.9,604.5L944.0,605.1L945.2,605.6L946.4,606.0L947.7,606.3L949.0,606.5L950.3,606.7L951.5,606.8L952.6,606.9L953.6,607.0" fill="none" stroke="#000" stroke-width="3.70" stroke-linejoin="round" stroke-linecap="butt"/>
<path d="M777.80,408.80V607.30" stroke="#ff0000" stroke-width="3.70" fill="none"/>
<path d="M741.35,438.05H830.60 M741.35,426.50V449.30 M830.60,426.50V450.70" stroke="#0000ff" stroke-width="3.80" fill="none"/>
<path d="M785.90,426.50V438.05" stroke="#0000ff" stroke-width="3.80" fill="none"/>
<text class="t b" x="813.20" y="477.00">mean value</text>
<text class="t r" x="814.20" y="520.30">MAP value</text>
<text class="t" text-anchor="middle" x="570.70" y="642.80">0.09</text>
<text class="t" text-anchor="middle" x="776.15" y="642.80">0.1</text>
<text class="t" text-anchor="middle" x="981.60" y="642.80">0.11</text>
<text class="t"><tspan class="t" x="577.20" y="683.70">S-wave attenuation (</tspan><tspan class="t i" x="827.05" y="683.70" textLength="19.50" lengthAdjust="spacingAndGlyphs">α</tspan><tspan class="s i" x="845.29" y="697.10">s</tspan><tspan class="s" x="857.03" y="697.10">2</tspan><tspan class="t" x="870.73" y="683.70">) </tspan><tspan class="t" x="889.03" y="683.70">/ </tspan><tspan class="t" x="905.56" y="683.70">dB</tspan><tspan class="t" x="940.47" y="683.70">·</tspan><tspan class="t i" x="951.16" y="683.70" textLength="15.70" lengthAdjust="spacingAndGlyphs">λ</tspan><tspan class="s" x="967.35" y="670.30">-1</tspan></text>
</g>
<g>
<text class="L" x="1062.80" y="391.00">F</text>
<rect x="1102.70" y="404.00" width="410.20" height="191.60" fill="none" stroke="#262626" stroke-width="3.70"/>
<path d="M1205.25,595.60v-5.90 M1205.25,404.00v5.90 M1307.80,595.60v-5.90 M1307.80,404.00v5.90 M1410.35,595.60v-5.90 M1410.35,404.00v5.90" stroke="#262626" stroke-width="3.30" fill="none"/>
<path d="M1205.1,595.6L1206.0,595.5L1206.9,595.3L1207.9,595.2L1208.8,595.1L1209.8,595.0L1210.7,594.8L1211.6,594.7L1212.6,594.5L1213.5,594.2L1214.4,593.9L1215.2,593.6L1216.0,593.2L1216.8,592.8L1217.6,592.3L1218.3,591.7L1219.0,591.1L1219.7,590.4L1220.3,589.7L1220.9,589.0L1221.5,588.2L1222.0,587.4L1222.5,586.6L1223.0,585.7L1223.5,584.9L1223.9,584.0L1224.4,583.2L1224.8,582.3L1225.2,581.5L1225.5,580.6L1225.9,579.8L1226.2,578.9L1226.6,578.1L1226.9,577.2L1227.2,576.3L1227.6,575.5L1227.9,574.6L1228.2,573.8L1228.5,572.9L1228.9,572.0L1229.2,571.2L1229.6,570.3L1230.0,569.4L1230.3,568.5L1230.8,567.6L1231.2,566.7L1231.6,565.9L1232.1,565.0L1232.7,564.3L1233.3,563.6L1234.0,563.0L1234.8,562.5L1235.6,562.1L1236.5,561.9L1237.4,561.8L1238.4,561.9L1239.3,562.1L1240.2,562.4L1241.0,562.8L1241.9,563.3L1242.7,563.9L1243.4,564.5L1244.1,565.1L1244.7,565.8L1245.4,566.5L1246.0,567.2L1246.6,568.0L1247.1,568.7L1247.7,569.5L1248.3,570.2L1248.8,571.0L1249.4,571.8L1249.9,572.5L1250.5,573.2L1251.1,574.0L1251.7,574.7L1252.3,575.4L1253.0,576.1L1253.7,576.7L1254.4,577.4L1255.1,578.0L1255.9,578.5L1256.8,579.0L1257.6,579.5L1258.5,579.8L1259.4,579.9L1260.3,579.9L1261.2,579.8L1262.0,579.4L1262.9,579.0L1263.7,578.4L1264.4,577.8L1265.1,577.1L1265.7,576.4L1266.3,575.6L1266.8,574.8L1267.2,574.0L1267.7,573.1L1268.1,572.3L1268.4,571.4L1268.8,570.5L1269.2,569.6L1269.5,568.8L1269.8,567.9L1270.2,567.0L1270.5,566.1L1270.8,565.2L1271.1,564.3L1271.4,563.4L1271.7,562.6L1272.0,561.7L1272.3,560.8L1272.6,559.9L1272.9,559.0L1273.2,558.1L1273.5,557.2L1273.8,556.3L1274.1,555.4L1274.3,554.5L1274.6,553.7L1274.9,552.8L1275.2,551.9L1275.5,551.0L1275.8,550.1L1276.1,549.2L1276.4,548.3L1276.8,547.5L1277.1,546.6L1277.4,545.7L1277.7,544.8L1278.0,543.9L1278.3,543.0L1278.7,542.2L1279.0,541.3L1279.3,540.4L1279.6,539.5L1279.9,538.6L1280.3,537.8L1280.6,536.9L1280.9,536.0L1281.2,535.1L1281.5,534.2L1281.8,533.3L1282.2,532.5L1282.5,531.6L1282.8,530.7L1283.1,529.8L1283.4,528.9L1283.7,528.0L1284.0,527.1L1284.3,526.2L1284.6,525.4L1284.9,524.5L1285.2,523.6L1285.5,522.7L1285.8,521.8L1286.0,520.9L1286.3,520.0L1286.6,519.1L1286.9,518.2L1287.2,517.3L1287.4,516.4L1287.7,515.5L1288.0,514.6L1288.3,513.7L1288.5,512.8L1288.8,511.9L1289.1,511.0L1289.3,510.1L1289.6,509.2L1289.9,508.3L1290.1,507.4L1290.4,506.5L1290.7,505.6L1290.9,504.7L1291.2,503.8L1291.5,502.9L1291.7,502.0L1292.0,501.1L1292.3,500.2L1292.5,499.3L1292.8,498.4L1293.1,497.5L1293.3,496.6L1293.6,495.7L1293.9,494.8L1294.2,493.9L1294.4,493.0L1294.7,492.1L1295.0,491.2L1295.2,490.3L1295.5,489.5L1295.8,488.6L1296.1,487.7L1296.4,486.8L1296.7,485.9L1296.9,485.0L1297.2,484.1L1297.5,483.2L1297.8,482.3L1298.1,481.4L1298.4,480.6L1298.7,479.7L1299.1,478.8L1299.4,477.9L1299.7,477.0L1300.0,476.1L1300.3,475.3L1300.7,474.4L1301.0,473.5L1301.4,472.6L1301.7,471.7L1302.1,470.8L1302.5,470.0L1303.0,469.1L1303.5,468.2L1304.1,467.4L1304.7,466.6L1305.4,465.9L1306.1,465.3L1306.8,465.0L1307.5,465.0L1308.2,465.3L1308.9,465.8L1309.5,466.5L1310.1,467.3L1310.6,468.2L1311.1,469.1L1311.5,470.0L1311.9,470.9L1312.2,471.8L1312.5,472.7L1312.8,473.6L1313.0,474.5L1313.2,475.4L1313.4,476.4L1313.6,477.3L1313.8,478.2L1314.0,479.1L1314.1,480.0L1314.3,481.0L1314.5,481.9L1314.6,482.8L1314.8,483.7L1315.0,484.6L1315.1,485.6L1315.3,486.5L1315.5,487.4L1315.6,488.3L1315.8,489.2L1316.0,490.2L1316.2,491.1L1316.3,492.0L1316.5,492.9L1316.7,493.9L1316.8,494.8L1317.0,495.7L1317.2,496.6L1317.3,497.5L1317.5,498.5L1317.7,499.4L1317.8,500.3L1318.0,501.2L1318.2,502.1L1318.4,503.1L1318.5,504.0L1318.7,504.9L1318.9,505.8L1319.0,506.7L1319.2,507.7L1319.4,508.6L1319.6,509.5L1319.8,510.4L1319.9,511.4L1320.1,512.3L1320.3,513.2L1320.5,514.1L1320.7,515.0L1320.8,516.0L1321.0,516.9L1321.2,517.8L1321.4,518.7L1321.6,519.7L1321.8,520.6L1322.0,521.5L1322.2,522.4L1322.3,523.3L1322.5,524.3L1322.8,525.2L1323.0,526.1L1323.2,527.0L1323.4,527.9L1323.6,528.9L1323.8,529.8L1324.0,530.7L1324.3,531.6L1324.5,532.5L1324.8,533.4L1325.0,534.3L1325.3,535.2L1325.5,536.1L1325.8,537.0L1326.0,537.9L1326.3,538.8L1326.6,539.7L1326.9,540.6L1327.2,541.5L1327.5,542.3L1327.8,543.2L1328.1,544.1L1328.4,545.0L1328.8,545.8L1329.1,546.7L1329.5,547.6L1329.8,548.4L1330.2,549.3L1330.6,550.1L1331.0,551.0L1331.4,551.8L1331.8,552.7L1332.2,553.5L1332.7,554.4L1333.1,555.2L1333.6,556.0L1334.0,556.9L1334.5,557.7L1335.0,558.5L1335.5,559.3L1336.0,560.1L1336.6,560.9L1337.1,561.7L1337.8,562.4L1338.4,563.0L1339.2,563.6L1340.0,564.0L1340.8,564.3L1341.7,564.5L1342.6,564.6L1343.5,564.5L1344.5,564.3L1345.4,564.1L1346.3,563.7L1347.2,563.4L1348.1,563.0L1349.1,562.7L1350.0,562.3L1350.9,562.0L1351.8,561.8L1352.7,561.6L1353.6,561.4L1354.5,561.4L1355.4,561.4L1356.4,561.6L1357.3,561.8L1358.2,562.0L1359.1,562.4L1359.9,562.7L1360.8,563.1L1361.6,563.5L1362.5,563.9L1363.3,564.4L1364.1,564.8L1364.9,565.3L1365.7,565.8L1366.4,566.4L1367.2,566.9L1367.9,567.5L1368.7,568.1L1369.4,568.7L1370.1,569.3L1370.7,569.9L1371.4,570.6L1372.1,571.3L1372.7,572.0L1373.3,572.7L1374.0,573.4L1374.6,574.1L1375.1,574.9L1375.7,575.6L1376.3,576.4L1376.9,577.1L1377.4,577.9L1377.9,578.7L1378.5,579.5L1379.0,580.3L1379.6,581.1L1380.1,581.9L1380.6,582.6L1381.2,583.4L1381.7,584.2L1382.3,584.9L1382.9,585.7L1383.4,586.4L1384.0,587.1L1384.6,587.8L1385.3,588.5L1385.9,589.2L1386.6,589.8L1387.3,590.4L1388.0,591.0L1388.7,591.5L1389.5,592.1L1390.3,592.5L1391.1,593.0L1391.9,593.4L1392.8,593.8L1393.6,594.2L1394.5,594.5L1395.4,594.8L1396.3,595.1L1397.2,595.3L1398.2,595.5L1399.1,595.6L1400.1,595.7L1401.0,595.8L1401.9,595.9L1402.9,595.9L1403.8,595.8L1404.8,595.7L1405.7,595.6 L1405.70,595.90 L1205.10,595.90 Z" fill="#0000ff" stroke="none"/>
<path d="M1205.1,595.6L1206.0,595.5L1206.9,595.3L1207.9,595.2L1208.8,595.1L1209.8,595.0L1210.7,594.8L1211.6,594.7L1212.6,594.5L1213.5,594.2L1214.4,593.9L1215.2,593.6L1216.0,593.2L1216.8,592.8L1217.6,592.3L1218.3,591.7L1219.0,591.1L1219.7,590.4L1220.3,589.7L1220.9,589.0L1221.5,588.2L1222.0,587.4L1222.5,586.6L1223.0,585.7L1223.5,584.9L1223.9,584.0L1224.4,583.2L1224.8,582.3L1225.2,581.5L1225.5,580.6L1225.9,579.8L1226.2,578.9L1226.6,578.1L1226.9,577.2L1227.2,576.3L1227.6,575.5L1227.9,574.6L1228.2,573.8L1228.5,572.9L1228.9,572.0L1229.2,571.2L1229.6,570.3L1230.0,569.4L1230.3,568.5L1230.8,567.6L1231.2,566.7L1231.6,565.9L1232.1,565.0L1232.7,564.3L1233.3,563.6L1234.0,563.0L1234.8,562.5L1235.6,562.1L1236.5,561.9L1237.4,561.8L1238.4,561.9L1239.3,562.1L1240.2,562.4L1241.0,562.8L1241.9,563.3L1242.7,563.9L1243.4,564.5L1244.1,565.1L1244.7,565.8L1245.4,566.5L1246.0,567.2L1246.6,568.0L1247.1,568.7L1247.7,569.5L1248.3,570.2L1248.8,571.0L1249.4,571.8L1249.9,572.5L1250.5,573.2L1251.1,574.0L1251.7,574.7L1252.3,575.4L1253.0,576.1L1253.7,576.7L1254.4,577.4L1255.1,578.0L1255.9,578.5L1256.8,579.0L1257.6,579.5L1258.5,579.8L1259.4,579.9L1260.3,579.9L1261.2,579.8L1262.0,579.4L1262.9,579.0L1263.7,578.4L1264.4,577.8L1265.1,577.1L1265.7,576.4L1266.3,575.6L1266.8,574.8L1267.2,574.0L1267.7,573.1L1268.1,572.3L1268.4,571.4L1268.8,570.5L1269.2,569.6L1269.5,568.8L1269.8,567.9L1270.2,567.0L1270.5,566.1L1270.8,565.2L1271.1,564.3L1271.4,563.4L1271.7,562.6L1272.0,561.7L1272.3,560.8L1272.6,559.9L1272.9,559.0L1273.2,558.1L1273.5,557.2L1273.8,556.3L1274.1,555.4L1274.3,554.5L1274.6,553.7L1274.9,552.8L1275.2,551.9L1275.5,551.0L1275.8,550.1L1276.1,549.2L1276.4,548.3L1276.8,547.5L1277.1,546.6L1277.4,545.7L1277.7,544.8L1278.0,543.9L1278.3,543.0L1278.7,542.2L1279.0,541.3L1279.3,540.4L1279.6,539.5L1279.9,538.6L1280.3,537.8L1280.6,536.9L1280.9,536.0L1281.2,535.1L1281.5,534.2L1281.8,533.3L1282.2,532.5L1282.5,531.6L1282.8,530.7L1283.1,529.8L1283.4,528.9L1283.7,528.0L1284.0,527.1L1284.3,526.2L1284.6,525.4L1284.9,524.5L1285.2,523.6L1285.5,522.7L1285.8,521.8L1286.0,520.9L1286.3,520.0L1286.6,519.1L1286.9,518.2L1287.2,517.3L1287.4,516.4L1287.7,515.5L1288.0,514.6L1288.3,513.7L1288.5,512.8L1288.8,511.9L1289.1,511.0L1289.3,510.1L1289.6,509.2L1289.9,508.3L1290.1,507.4L1290.4,506.5L1290.7,505.6L1290.9,504.7L1291.2,503.8L1291.5,502.9L1291.7,502.0L1292.0,501.1L1292.3,500.2L1292.5,499.3L1292.8,498.4L1293.1,497.5L1293.3,496.6L1293.6,495.7L1293.9,494.8L1294.2,493.9L1294.4,493.0L1294.7,492.1L1295.0,491.2L1295.2,490.3L1295.5,489.5L1295.8,488.6L1296.1,487.7L1296.4,486.8L1296.7,485.9L1296.9,485.0L1297.2,484.1L1297.5,483.2L1297.8,482.3L1298.1,481.4L1298.4,480.6L1298.7,479.7L1299.1,478.8L1299.4,477.9L1299.7,477.0L1300.0,476.1L1300.3,475.3L1300.7,474.4L1301.0,473.5L1301.4,472.6L1301.7,471.7L1302.1,470.8L1302.5,470.0L1303.0,469.1L1303.5,468.2L1304.1,467.4L1304.7,466.6L1305.4,465.9L1306.1,465.3L1306.8,465.0L1307.5,465.0L1308.2,465.3L1308.9,465.8L1309.5,466.5L1310.1,467.3L1310.6,468.2L1311.1,469.1L1311.5,470.0L1311.9,470.9L1312.2,471.8L1312.5,472.7L1312.8,473.6L1313.0,474.5L1313.2,475.4L1313.4,476.4L1313.6,477.3L1313.8,478.2L1314.0,479.1L1314.1,480.0L1314.3,481.0L1314.5,481.9L1314.6,482.8L1314.8,483.7L1315.0,484.6L1315.1,485.6L1315.3,486.5L1315.5,487.4L1315.6,488.3L1315.8,489.2L1316.0,490.2L1316.2,491.1L1316.3,492.0L1316.5,492.9L1316.7,493.9L1316.8,494.8L1317.0,495.7L1317.2,496.6L1317.3,497.5L1317.5,498.5L1317.7,499.4L1317.8,500.3L1318.0,501.2L1318.2,502.1L1318.4,503.1L1318.5,504.0L1318.7,504.9L1318.9,505.8L1319.0,506.7L1319.2,507.7L1319.4,508.6L1319.6,509.5L1319.8,510.4L1319.9,511.4L1320.1,512.3L1320.3,513.2L1320.5,514.1L1320.7,515.0L1320.8,516.0L1321.0,516.9L1321.2,517.8L1321.4,518.7L1321.6,519.7L1321.8,520.6L1322.0,521.5L1322.2,522.4L1322.3,523.3L1322.5,524.3L1322.8,525.2L1323.0,526.1L1323.2,527.0L1323.4,527.9L1323.6,528.9L1323.8,529.8L1324.0,530.7L1324.3,531.6L1324.5,532.5L1324.8,533.4L1325.0,534.3L1325.3,535.2L1325.5,536.1L1325.8,537.0L1326.0,537.9L1326.3,538.8L1326.6,539.7L1326.9,540.6L1327.2,541.5L1327.5,542.3L1327.8,543.2L1328.1,544.1L1328.4,545.0L1328.8,545.8L1329.1,546.7L1329.5,547.6L1329.8,548.4L1330.2,549.3L1330.6,550.1L1331.0,551.0L1331.4,551.8L1331.8,552.7L1332.2,553.5L1332.7,554.4L1333.1,555.2L1333.6,556.0L1334.0,556.9L1334.5,557.7L1335.0,558.5L1335.5,559.3L1336.0,560.1L1336.6,560.9L1337.1,561.7L1337.8,562.4L1338.4,563.0L1339.2,563.6L1340.0,564.0L1340.8,564.3L1341.7,564.5L1342.6,564.6L1343.5,564.5L1344.5,564.3L1345.4,564.1L1346.3,563.7L1347.2,563.4L1348.1,563.0L1349.1,562.7L1350.0,562.3L1350.9,562.0L1351.8,561.8L1352.7,561.6L1353.6,561.4L1354.5,561.4L1355.4,561.4L1356.4,561.6L1357.3,561.8L1358.2,562.0L1359.1,562.4L1359.9,562.7L1360.8,563.1L1361.6,563.5L1362.5,563.9L1363.3,564.4L1364.1,564.8L1364.9,565.3L1365.7,565.8L1366.4,566.4L1367.2,566.9L1367.9,567.5L1368.7,568.1L1369.4,568.7L1370.1,569.3L1370.7,569.9L1371.4,570.6L1372.1,571.3L1372.7,572.0L1373.3,572.7L1374.0,573.4L1374.6,574.1L1375.1,574.9L1375.7,575.6L1376.3,576.4L1376.9,577.1L1377.4,577.9L1377.9,578.7L1378.5,579.5L1379.0,580.3L1379.6,581.1L1380.1,581.9L1380.6,582.6L1381.2,583.4L1381.7,584.2L1382.3,584.9L1382.9,585.7L1383.4,586.4L1384.0,587.1L1384.6,587.8L1385.3,588.5L1385.9,589.2L1386.6,589.8L1387.3,590.4L1388.0,591.0L1388.7,591.5L1389.5,592.1L1390.3,592.5L1391.1,593.0L1391.9,593.4L1392.8,593.8L1393.6,594.2L1394.5,594.5L1395.4,594.8L1396.3,595.1L1397.2,595.3L1398.2,595.5L1399.1,595.6L1400.1,595.7L1401.0,595.8L1401.9,595.9L1402.9,595.9L1403.8,595.8L1404.8,595.7L1405.7,595.6" fill="none" stroke="#000" stroke-width="3.70" stroke-linejoin="round" stroke-linecap="butt"/>
<path d="M1297.70,411.70V595.90" stroke="#ff0000" stroke-width="3.70" fill="none"/>
<path d="M1270.25,443.65H1339.20 M1270.25,433.25V453.70 M1339.20,433.25V455.50" stroke="#0000ff" stroke-width="3.80" fill="none"/>
<path d="M1304.50,433.25V443.65" stroke="#0000ff" stroke-width="3.80" fill="none"/>
<text class="t b" x="1348.90" y="454.70">mean value</text>
<text class="t r" x="1349.40" y="493.80">MAP value</text>
<text class="t" text-anchor="middle" x="1102.40" y="631.00">230</text>
<text class="t" text-anchor="middle" x="1204.95" y="631.00">240</text>
<text class="t" text-anchor="middle" x="1307.50" y="631.00">250</text>
<text class="t" text-anchor="middle" x="1410.05" y="631.00">260</text>
<text class="t" text-anchor="middle" x="1512.60" y="631.00">270</text>
<text class="t"><tspan class="t" x="1210.90" y="668.00">Depth (</tspan><tspan class="t i" x="1302.31" y="668.00">h</tspan><tspan class="s" x="1317.81" y="681.40">2</tspan><tspan class="t" x="1331.41" y="668.00">) </tspan><tspan class="t" x="1349.70" y="668.00">/ </tspan><tspan class="t" x="1365.53" y="668.00">mm</tspan></text>
</g>
</svg></body></html>
